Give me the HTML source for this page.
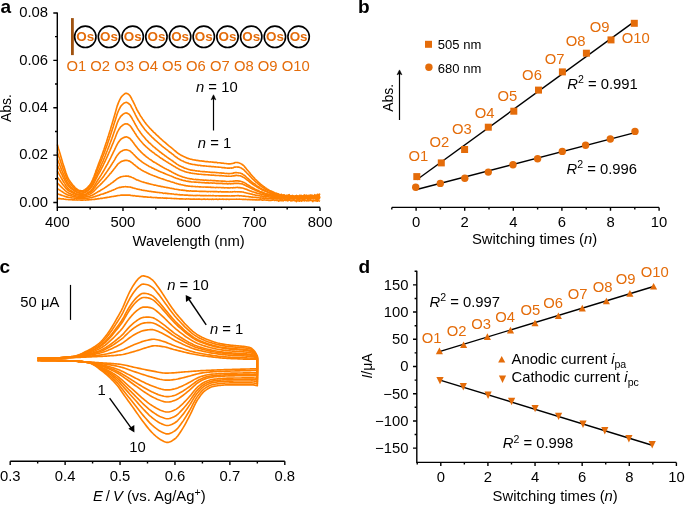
<!DOCTYPE html>
<html><head><meta charset="utf-8"><style>
html,body{margin:0;padding:0;background:#fff;width:685px;height:505px;overflow:hidden}
svg{display:block}
text{font-family:"Liberation Sans", sans-serif;}
</style></head><body>
<svg width="685" height="505" viewBox="0 0 685 505" style="will-change:transform" font-family='"Liberation Sans", sans-serif'>
<rect width="685" height="505" fill="#fff"/>
<g fill="none" stroke="#ff8000" stroke-width="1.65" stroke-linejoin="round">
<path d="M57.3 198.16 L57.96 198.57 L58.61 198.44 L59.27 198.59 L59.93 198.67 L60.58 198.74 L61.24 198.95 L61.9 198.91 L62.55 199.03 L63.21 198.82 L63.87 199.11 L64.52 199.23 L65.18 199.3 L65.84 199.41 L66.5 199.51 L67.15 199.53 L67.81 199.52 L68.47 199.62 L69.12 199.58 L69.78 199.7 L70.44 199.72 L71.09 199.65 L71.75 199.75 L72.41 199.86 L73.06 199.86 L73.72 199.84 L74.38 199.77 L75.03 199.95 L75.69 199.98 L76.35 199.91 L77 200.06 L77.66 200.04 L78.32 199.97 L78.97 200.01 L79.63 200.05 L80.29 200.02 L80.94 200.27 L81.6 200 L82.26 200.14 L82.92 200.18 L83.57 200.03 L84.23 199.99 L84.89 200.05 L85.54 200.07 L86.2 199.97 L86.86 199.94 L87.51 199.81 L88.17 199.82 L88.83 199.83 L89.48 199.72 L90.14 199.78 L90.8 199.78 L91.45 199.62 L92.11 199.55 L92.77 199.53 L93.42 199.48 L94.08 199.32 L94.74 199.42 L95.39 199.1 L96.05 199.02 L96.71 199.07 L97.36 198.86 L98.02 198.84 L98.68 198.63 L99.34 198.74 L99.99 198.57 L100.65 198.37 L101.31 198.25 L101.96 198.39 L102.62 198.18 L103.28 198.02 L103.93 197.99 L104.59 197.74 L105.25 197.83 L105.9 197.62 L106.56 197.62 L107.22 197.34 L107.87 197.33 L108.53 197.25 L109.19 197.24 L109.84 196.89 L110.5 196.84 L111.16 196.73 L111.81 196.59 L112.47 196.53 L113.13 196.48 L113.78 196.37 L114.44 196.26 L115.1 195.98 L115.76 196.06 L116.41 195.87 L117.07 195.73 L117.73 195.59 L118.38 195.48 L119.04 195.53 L119.7 195.49 L120.35 195.3 L121.01 195.17 L121.67 195.16 L122.32 195.17 L122.98 195.18 L123.64 195.11 L124.29 195.13 L124.95 195.04 L125.61 195.14 L126.26 195.08 L126.92 195.11 L127.58 195.09 L128.23 195.15 L128.89 195.02 L129.55 195.13 L130.2 195.19 L130.86 195.51 L131.52 195.47 L132.18 195.57 L132.83 195.57 L133.49 195.85 L134.15 195.69 L134.8 195.78 L135.46 196.03 L136.12 196.1 L136.77 196.16 L137.43 196.18 L138.09 196.21 L138.74 196.18 L139.4 196.41 L140.06 196.41 L140.71 196.51 L141.37 196.46 L142.03 196.59 L142.68 196.61 L143.34 196.84 L144 196.83 L144.65 196.93 L145.31 196.82 L145.97 196.93 L146.62 197.05 L147.28 197.11 L147.94 197.09 L148.6 197.22 L149.25 197.28 L149.91 197.22 L150.57 197.12 L151.22 197.36 L151.88 197.42 L152.54 197.51 L153.19 197.56 L153.85 197.47 L154.51 197.48 L155.16 197.58 L155.82 197.6 L156.48 197.65 L157.13 197.69 L157.79 197.84 L158.45 197.8 L159.1 197.8 L159.76 197.9 L160.42 197.91 L161.07 197.97 L161.73 197.97 L162.39 197.92 L163.04 198.04 L163.7 198.06 L164.36 198.03 L165.02 198.07 L165.67 198.03 L166.33 198.33 L166.99 198.15 L167.64 198.28 L168.3 198.27 L168.96 198.25 L169.61 198.27 L170.27 198.3 L170.93 198.39 L171.58 198.32 L172.24 198.49 L172.9 198.51 L173.55 198.48 L174.21 198.61 L174.87 198.45 L175.52 198.56 L176.18 198.51 L176.84 198.69 L177.49 198.75 L178.15 198.74 L178.81 198.72 L179.46 198.84 L180.12 198.8 L180.78 198.85 L181.44 198.75 L182.09 198.94 L182.75 198.83 L183.41 198.97 L184.06 199.02 L184.72 199.02 L185.38 199.07 L186.03 198.99 L186.69 198.94 L187.35 199.02 L188 199 L188.66 198.94 L189.32 199.05 L189.97 199.07 L190.63 199.11 L191.29 199.21 L191.94 199.05 L192.6 199.24 L193.26 199.07 L193.91 199.13 L194.57 199.05 L195.23 199.14 L195.88 199.2 L196.54 199.13 L197.2 199.2 L197.86 199.17 L198.51 199.16 L199.17 199.18 L199.83 199.19 L200.48 199.24 L201.14 199.2 L201.8 199.34 L202.45 199.2 L203.11 199.28 L203.77 199.12 L204.42 199.11 L205.08 199.34 L205.74 199.2 L206.39 199.22 L207.05 199.29 L207.71 199.18 L208.36 199.25 L209.02 199.35 L209.68 199.25 L210.33 199.24 L210.99 199.22 L211.65 199.32 L212.3 199.19 L212.96 199.19 L213.62 199.32 L214.28 199.29 L214.93 199.25 L215.59 199.29 L216.25 199.13 L216.9 199.24 L217.56 199.33 L218.22 199.31 L218.87 199.26 L219.53 199.1 L220.19 199.28 L220.84 199.26 L221.5 199.23 L222.16 199.28 L222.81 199.11 L223.47 199.32 L224.13 199.23 L224.78 199.27 L225.44 199.24 L226.1 199.37 L226.75 199.17 L227.41 199.3 L228.07 199.29 L228.72 199.36 L229.38 199.35 L230.04 199.25 L230.7 199.22 L231.35 199.24 L232.01 199.2 L232.67 199.23 L233.32 199.28 L233.98 199.21 L234.64 199.22 L235.29 199.27 L235.95 199.2 L236.61 199.16 L237.26 199.24 L237.92 199.29 L238.58 199.21 L239.23 199.13 L239.89 199.29 L240.55 199.29 L241.2 199.3 L241.86 199.22 L242.52 199.45 L243.17 199.31 L243.83 199.27 L244.49 199.44 L245.14 199.29 L245.8 199.38 L246.46 199.49 L247.12 199.45 L247.77 199.61 L248.43 199.56 L249.09 199.4 L249.74 199.64 L250.4 199.44 L251.06 199.62 L251.71 199.56 L252.37 199.66 L253.03 199.87 L253.68 199.75 L254.34 199.71 L255 199.85 L255.65 199.89 L256.31 199.75 L256.97 199.86 L257.62 199.99 L258.28 199.91 L258.94 199.77 L259.59 199.93 L260.25 199.79 L260.91 199.74 L261.56 199.92 L262.22 200.07 L262.88 200.12 L263.54 199.98 L264.19 199.87 L264.85 199.97 L265.51 199.95 L266.16 200.11 L266.82 200.02 L267.48 200.16 L268.13 200.16 L268.79 200.35 L269.45 200.42 L270.1 200.25 L270.76 200.39 L271.42 200.38 L272.07 200.06 L272.73 200.24 L273.39 199.57 L274.04 200.03 L274.7 200.42 L275.36 200.08 L276.01 200.2 L276.67 200.49 L277.33 200.01 L277.98 200.55 L278.64 201.24 L279.3 200.12 L279.96 200.56 L280.61 199.91 L281.27 200.6 L281.93 200.79 L282.58 199.9 L283.24 200.78 L283.9 200.36 L284.55 199.94 L285.21 200.41 L285.87 200.49 L286.52 200.43 L287.18 200.18 L287.84 200.78 L288.49 200.27 L289.15 200.29 L289.81 199.64 L290.46 200.65 L291.12 200.88 L291.78 200.26 L292.43 200.7 L293.09 200.44 L293.75 200.51 L294.4 200.12 L295.06 200.83 L295.72 200.62 L296.38 201.59 L297.03 200.95 L297.69 200 L298.35 200.88 L299 200.9 L299.66 201.11 L300.32 200.4 L300.97 200.57 L301.63 201.11 L302.29 200.38 L302.94 200.55 L303.6 200.36 L304.26 200.92 L304.91 199.98 L305.57 200.52 L306.23 200.73 L306.88 200.9 L307.54 200.79 L308.2 200.36 L308.85 200.82 L309.51 200.28 L310.17 200.49 L310.82 200.19 L311.48 200.41 L312.14 200.76 L312.8 201.51 L313.45 200.63 L314.11 200.44 L314.77 200.69 L315.42 200.54 L316.08 200.96 L316.74 200.93 L317.39 201.16 L318.05 200.24 L318.71 200.73 L319.36 201 L320.02 201.34"/>
<path d="M57.3 193.81 L57.96 193.93 L58.61 194.23 L59.27 194.54 L59.93 194.62 L60.58 194.85 L61.24 195.12 L61.9 195.36 L62.55 195.56 L63.21 195.82 L63.87 196.01 L64.52 196.33 L65.18 196.38 L65.84 196.68 L66.5 196.75 L67.15 197.21 L67.81 197.18 L68.47 197.29 L69.12 197.5 L69.78 197.55 L70.44 197.63 L71.09 197.73 L71.75 197.89 L72.41 197.95 L73.06 197.95 L73.72 198.01 L74.38 198.17 L75.03 198.24 L75.69 198.29 L76.35 198.29 L77 198.49 L77.66 198.56 L78.32 198.5 L78.97 198.62 L79.63 198.61 L80.29 198.58 L80.94 198.57 L81.6 198.68 L82.26 198.54 L82.92 198.7 L83.57 198.51 L84.23 198.62 L84.89 198.55 L85.54 198.36 L86.2 198.37 L86.86 198.32 L87.51 198.22 L88.17 198.07 L88.83 198.02 L89.48 197.92 L90.14 197.75 L90.8 197.76 L91.45 197.61 L92.11 197.45 L92.77 197.15 L93.42 196.96 L94.08 196.73 L94.74 196.61 L95.39 196.39 L96.05 196.09 L96.71 195.96 L97.36 195.65 L98.02 195.45 L98.68 195.34 L99.34 195.09 L99.99 194.88 L100.65 194.54 L101.31 194.27 L101.96 194.24 L102.62 194.01 L103.28 193.95 L103.93 193.55 L104.59 193.33 L105.25 193.17 L105.9 192.79 L106.56 192.71 L107.22 192.37 L107.87 192.1 L108.53 191.94 L109.19 191.54 L109.84 191.26 L110.5 191.18 L111.16 190.92 L111.81 190.51 L112.47 190.28 L113.13 190.09 L113.78 189.75 L114.44 189.46 L115.1 189.18 L115.76 188.82 L116.41 188.56 L117.07 188.19 L117.73 187.97 L118.38 187.82 L119.04 187.6 L119.7 187.41 L120.35 187.3 L121.01 187.3 L121.67 187.06 L122.32 187.04 L122.98 186.85 L123.64 186.89 L124.29 186.8 L124.95 186.77 L125.61 186.65 L126.26 186.76 L126.92 186.81 L127.58 186.81 L128.23 186.93 L128.89 186.96 L129.55 187.05 L130.2 187.14 L130.86 187.17 L131.52 187.51 L132.18 187.65 L132.83 187.83 L133.49 187.94 L134.15 188.26 L134.8 188.41 L135.46 188.55 L136.12 188.69 L136.77 188.91 L137.43 189.11 L138.09 189.29 L138.74 189.34 L139.4 189.42 L140.06 189.64 L140.71 189.79 L141.37 189.9 L142.03 190.13 L142.68 190.21 L143.34 190.33 L144 190.41 L144.65 190.55 L145.31 190.75 L145.97 190.69 L146.62 190.76 L147.28 191 L147.94 191.06 L148.6 191.16 L149.25 191.22 L149.91 191.48 L150.57 191.35 L151.22 191.59 L151.88 191.55 L152.54 191.73 L153.19 191.85 L153.85 191.91 L154.51 191.92 L155.16 192.13 L155.82 192.18 L156.48 192.27 L157.13 192.44 L157.79 192.31 L158.45 192.44 L159.1 192.56 L159.76 192.56 L160.42 192.78 L161.07 192.8 L161.73 192.75 L162.39 192.87 L163.04 193.18 L163.7 193.33 L164.36 193.24 L165.02 193.16 L165.67 193.34 L166.33 193.4 L166.99 193.41 L167.64 193.58 L168.3 193.58 L168.96 193.61 L169.61 193.7 L170.27 193.77 L170.93 193.91 L171.58 193.9 L172.24 194.04 L172.9 193.99 L173.55 193.97 L174.21 194.28 L174.87 194.45 L175.52 194.39 L176.18 194.41 L176.84 194.42 L177.49 194.49 L178.15 194.68 L178.81 194.74 L179.46 194.65 L180.12 194.87 L180.78 194.77 L181.44 194.91 L182.09 194.88 L182.75 194.93 L183.41 194.97 L184.06 195.01 L184.72 195.17 L185.38 195.12 L186.03 195.18 L186.69 195.19 L187.35 195.16 L188 195.3 L188.66 195.36 L189.32 195.38 L189.97 195.38 L190.63 195.32 L191.29 195.45 L191.94 195.33 L192.6 195.41 L193.26 195.46 L193.91 195.56 L194.57 195.46 L195.23 195.44 L195.88 195.63 L196.54 195.44 L197.2 195.42 L197.86 195.52 L198.51 195.52 L199.17 195.4 L199.83 195.49 L200.48 195.65 L201.14 195.6 L201.8 195.62 L202.45 195.63 L203.11 195.8 L203.77 195.58 L204.42 195.69 L205.08 195.64 L205.74 195.67 L206.39 195.61 L207.05 195.7 L207.71 195.74 L208.36 195.65 L209.02 195.6 L209.68 195.73 L210.33 195.61 L210.99 195.7 L211.65 195.76 L212.3 195.63 L212.96 195.8 L213.62 195.68 L214.28 195.79 L214.93 195.73 L215.59 195.86 L216.25 195.83 L216.9 195.71 L217.56 195.77 L218.22 195.79 L218.87 195.83 L219.53 195.78 L220.19 195.91 L220.84 195.9 L221.5 195.84 L222.16 195.89 L222.81 195.89 L223.47 195.86 L224.13 195.87 L224.78 195.89 L225.44 195.76 L226.1 195.82 L226.75 195.81 L227.41 195.91 L228.07 195.94 L228.72 196.01 L229.38 195.93 L230.04 196.05 L230.7 195.94 L231.35 195.84 L232.01 195.77 L232.67 195.81 L233.32 195.92 L233.98 195.8 L234.64 195.87 L235.29 195.73 L235.95 195.79 L236.61 195.72 L237.26 195.6 L237.92 195.73 L238.58 195.64 L239.23 195.81 L239.89 195.87 L240.55 195.78 L241.2 195.78 L241.86 195.99 L242.52 195.98 L243.17 196.15 L243.83 196.12 L244.49 196.11 L245.14 196.26 L245.8 196.38 L246.46 196.52 L247.12 196.47 L247.77 196.52 L248.43 196.61 L249.09 196.71 L249.74 196.91 L250.4 196.75 L251.06 196.98 L251.71 197.06 L252.37 197.07 L253.03 197.38 L253.68 197.28 L254.34 197.35 L255 197.38 L255.65 197.36 L256.31 197.5 L256.97 197.78 L257.62 197.7 L258.28 197.71 L258.94 197.78 L259.59 197.98 L260.25 198.08 L260.91 197.9 L261.56 197.98 L262.22 198.07 L262.88 198.33 L263.54 197.95 L264.19 198.6 L264.85 198.31 L265.51 198.01 L266.16 198.36 L266.82 198.34 L267.48 198.6 L268.13 198.22 L268.79 198.7 L269.45 198.46 L270.1 198.51 L270.76 198.77 L271.42 198.41 L272.07 198.92 L272.73 198.79 L273.39 198.67 L274.04 198.78 L274.7 198.59 L275.36 198.49 L276.01 198.82 L276.67 198.91 L277.33 198.93 L277.98 198.91 L278.64 198.58 L279.3 198.9 L279.96 198.72 L280.61 198.88 L281.27 199.13 L281.93 198.59 L282.58 199.23 L283.24 198.89 L283.9 198.39 L284.55 199.28 L285.21 198.93 L285.87 199.48 L286.52 199.1 L287.18 199.46 L287.84 199.06 L288.49 199.12 L289.15 198.88 L289.81 198.34 L290.46 198.82 L291.12 198.68 L291.78 198.95 L292.43 199.02 L293.09 199.25 L293.75 199.62 L294.4 198.9 L295.06 198.29 L295.72 198.73 L296.38 199.13 L297.03 198.27 L297.69 199.08 L298.35 199.15 L299 199.38 L299.66 199.28 L300.32 198.99 L300.97 198.09 L301.63 198.96 L302.29 199.28 L302.94 199.1 L303.6 198.94 L304.26 199.53 L304.91 198.79 L305.57 198.55 L306.23 198.7 L306.88 198.58 L307.54 199.33 L308.2 199.48 L308.85 198.28 L309.51 198.35 L310.17 199.4 L310.82 198.69 L311.48 198.76 L312.14 198.54 L312.8 198.67 L313.45 198.94 L314.11 198.66 L314.77 198.66 L315.42 198.74 L316.08 199.45 L316.74 199.9 L317.39 199.01 L318.05 199.34 L318.71 198.58 L319.36 198.38 L320.02 198.56"/>
<path d="M57.3 188.63 L57.96 189.02 L58.61 189.37 L59.27 189.93 L59.93 190.23 L60.58 190.67 L61.24 191.13 L61.9 191.47 L62.55 192.04 L63.21 192.33 L63.87 192.85 L64.52 193.22 L65.18 193.63 L65.84 193.9 L66.5 194.36 L67.15 194.62 L67.81 194.99 L68.47 195.08 L69.12 195.24 L69.78 195.55 L70.44 195.62 L71.09 195.86 L71.75 195.9 L72.41 196.2 L73.06 196.47 L73.72 196.4 L74.38 196.66 L75.03 196.85 L75.69 196.93 L76.35 197.11 L77 197.1 L77.66 197.25 L78.32 197.14 L78.97 197.26 L79.63 197.47 L80.29 197.49 L80.94 197.45 L81.6 197.55 L82.26 197.4 L82.92 197.36 L83.57 197.36 L84.23 197.27 L84.89 197.1 L85.54 196.93 L86.2 196.81 L86.86 196.78 L87.51 196.57 L88.17 196.53 L88.83 196.29 L89.48 196.22 L90.14 195.92 L90.8 195.85 L91.45 195.58 L92.11 195.22 L92.77 194.86 L93.42 194.64 L94.08 194.2 L94.74 193.76 L95.39 193.35 L96.05 193.02 L96.71 192.55 L97.36 192.19 L98.02 191.69 L98.68 191.38 L99.34 191.14 L99.99 190.83 L100.65 190.29 L101.31 189.83 L101.96 189.51 L102.62 189.06 L103.28 188.76 L103.93 188.4 L104.59 187.84 L105.25 187.45 L105.9 186.98 L106.56 186.69 L107.22 186.13 L107.87 185.74 L108.53 185.18 L109.19 184.82 L109.84 184.36 L110.5 183.89 L111.16 183.29 L111.81 182.9 L112.47 182.47 L113.13 182 L113.78 181.51 L114.44 180.84 L115.1 180.57 L115.76 179.97 L116.41 179.34 L117.07 178.81 L117.73 178.48 L118.38 178.05 L119.04 177.7 L119.7 177.37 L120.35 177.15 L121.01 176.8 L121.67 176.72 L122.32 176.48 L122.98 176.53 L123.64 176.26 L124.29 176.3 L124.95 176.24 L125.61 176.04 L126.26 176.12 L126.92 176.06 L127.58 176.24 L128.23 176.15 L128.89 176.39 L129.55 176.6 L130.2 176.69 L130.86 176.9 L131.52 177.31 L132.18 177.51 L132.83 177.69 L133.49 178.08 L134.15 178.45 L134.8 178.81 L135.46 179.05 L136.12 179.52 L136.77 179.93 L137.43 180.05 L138.09 180.35 L138.74 180.41 L139.4 180.77 L140.06 181.1 L140.71 181.35 L141.37 181.46 L142.03 181.78 L142.68 181.99 L143.34 182.16 L144 182.36 L144.65 182.56 L145.31 182.75 L145.97 182.86 L146.62 183.01 L147.28 183.43 L147.94 183.3 L148.6 183.65 L149.25 183.73 L149.91 184.04 L150.57 184.12 L151.22 184.29 L151.88 184.45 L152.54 184.54 L153.19 184.71 L153.85 184.97 L154.51 185.06 L155.16 185.14 L155.82 185.29 L156.48 185.5 L157.13 185.64 L157.79 185.77 L158.45 185.98 L159.1 186.13 L159.76 186.06 L160.42 186.34 L161.07 186.44 L161.73 186.63 L162.39 186.62 L163.04 186.71 L163.7 186.98 L164.36 187.06 L165.02 187.27 L165.67 187.22 L166.33 187.4 L166.99 187.65 L167.64 187.63 L168.3 187.81 L168.96 187.93 L169.61 188.06 L170.27 188.25 L170.93 188.36 L171.58 188.4 L172.24 188.57 L172.9 188.76 L173.55 188.67 L174.21 188.96 L174.87 189.11 L175.52 189.24 L176.18 189.26 L176.84 189.35 L177.49 189.52 L178.15 189.58 L178.81 189.85 L179.46 189.87 L180.12 189.97 L180.78 190.02 L181.44 190.07 L182.09 190.33 L182.75 190.04 L183.41 190.4 L184.06 190.39 L184.72 190.42 L185.38 190.49 L186.03 190.6 L186.69 190.88 L187.35 190.81 L188 190.73 L188.66 190.9 L189.32 190.96 L189.97 191.09 L190.63 190.87 L191.29 190.96 L191.94 191.09 L192.6 191.07 L193.26 191.09 L193.91 191.19 L194.57 191.16 L195.23 191.15 L195.88 191.15 L196.54 191.13 L197.2 191.24 L197.86 191.29 L198.51 191.25 L199.17 191.35 L199.83 191.41 L200.48 191.26 L201.14 191.39 L201.8 191.37 L202.45 191.35 L203.11 191.49 L203.77 191.38 L204.42 191.41 L205.08 191.46 L205.74 191.44 L206.39 191.54 L207.05 191.65 L207.71 191.53 L208.36 191.59 L209.02 191.48 L209.68 191.53 L210.33 191.6 L210.99 191.58 L211.65 191.5 L212.3 191.53 L212.96 191.59 L213.62 191.6 L214.28 191.67 L214.93 191.67 L215.59 191.63 L216.25 191.69 L216.9 191.67 L217.56 191.79 L218.22 191.84 L218.87 191.85 L219.53 191.78 L220.19 191.67 L220.84 191.69 L221.5 191.86 L222.16 191.91 L222.81 191.76 L223.47 191.81 L224.13 191.96 L224.78 191.8 L225.44 191.89 L226.1 191.82 L226.75 191.91 L227.41 191.88 L228.07 191.93 L228.72 192.02 L229.38 191.97 L230.04 191.99 L230.7 191.87 L231.35 191.99 L232.01 192.01 L232.67 191.83 L233.32 191.77 L233.98 191.7 L234.64 191.67 L235.29 191.82 L235.95 191.74 L236.61 191.74 L237.26 191.71 L237.92 191.88 L238.58 191.74 L239.23 191.75 L239.89 191.89 L240.55 191.87 L241.2 191.86 L241.86 192.02 L242.52 192.04 L243.17 192.15 L243.83 192.32 L244.49 192.46 L245.14 192.67 L245.8 192.71 L246.46 193 L247.12 193.18 L247.77 193.23 L248.43 193.5 L249.09 193.56 L249.74 193.67 L250.4 193.91 L251.06 194.07 L251.71 194.16 L252.37 194.32 L253.03 194.66 L253.68 194.79 L254.34 194.7 L255 194.92 L255.65 195.27 L256.31 195.34 L256.97 195.35 L257.62 195.57 L258.28 195.55 L258.94 195.7 L259.59 195.78 L260.25 196.07 L260.91 195.98 L261.56 195.94 L262.22 196.36 L262.88 196.21 L263.54 196.35 L264.19 196.49 L264.85 196.66 L265.51 196.89 L266.16 196.93 L266.82 196.76 L267.48 196.79 L268.13 196.8 L268.79 196.9 L269.45 196.96 L270.1 197.26 L270.76 197.47 L271.42 197.24 L272.07 197.22 L272.73 197.36 L273.39 197.76 L274.04 197.58 L274.7 197.86 L275.36 197.5 L276.01 197.85 L276.67 197.65 L277.33 197.55 L277.98 197.63 L278.64 197.3 L279.3 198.06 L279.96 198.42 L280.61 197.47 L281.27 197.34 L281.93 197.33 L282.58 197.72 L283.24 197.64 L283.9 197.79 L284.55 198.29 L285.21 198.05 L285.87 197.68 L286.52 198.07 L287.18 197.18 L287.84 198.43 L288.49 198.03 L289.15 197.46 L289.81 198.1 L290.46 198.29 L291.12 198.38 L291.78 198.14 L292.43 197.28 L293.09 197.69 L293.75 197.65 L294.4 198.04 L295.06 197.51 L295.72 197.79 L296.38 198.18 L297.03 197.99 L297.69 197.72 L298.35 197.33 L299 197.8 L299.66 197.56 L300.32 196.95 L300.97 198.05 L301.63 198.2 L302.29 197.31 L302.94 197.5 L303.6 197.7 L304.26 197.54 L304.91 197.76 L305.57 197.4 L306.23 197.73 L306.88 197.26 L307.54 198.03 L308.2 197.87 L308.85 197.48 L309.51 197.69 L310.17 197.21 L310.82 197.49 L311.48 197.67 L312.14 197.35 L312.8 197.63 L313.45 198.02 L314.11 197.83 L314.77 197.68 L315.42 197.53 L316.08 197.28 L316.74 196.94 L317.39 197.06 L318.05 196.55 L318.71 196.73 L319.36 197.3 L320.02 196.54"/>
<path d="M57.3 182.91 L57.96 183.68 L58.61 184.27 L59.27 184.86 L59.93 185.56 L60.58 186.15 L61.24 186.84 L61.9 187.47 L62.55 188.17 L63.21 188.73 L63.87 189.37 L64.52 189.88 L65.18 190.64 L65.84 191.07 L66.5 191.55 L67.15 192.1 L67.81 192.58 L68.47 192.92 L69.12 193.34 L69.78 193.63 L70.44 193.86 L71.09 194.09 L71.75 194.25 L72.41 194.61 L73.06 194.71 L73.72 195.12 L74.38 195.27 L75.03 195.41 L75.69 195.5 L76.35 195.78 L77 196.03 L77.66 195.98 L78.32 196.12 L78.97 196.29 L79.63 196.35 L80.29 196.37 L80.94 196.35 L81.6 196.32 L82.26 196.44 L82.92 196.1 L83.57 196.17 L84.23 196.07 L84.89 195.84 L85.54 195.7 L86.2 195.34 L86.86 195.2 L87.51 195.06 L88.17 194.81 L88.83 194.54 L89.48 194.24 L90.14 193.88 L90.8 193.62 L91.45 193.04 L92.11 192.67 L92.77 192.12 L93.42 191.44 L94.08 191.01 L94.74 190.27 L95.39 189.48 L96.05 188.83 L96.71 188.15 L97.36 187.45 L98.02 186.88 L98.68 186.23 L99.34 185.68 L99.99 185.09 L100.65 184.23 L101.31 183.74 L101.96 183.06 L102.62 182.24 L103.28 181.58 L103.93 181 L104.59 180.29 L105.25 179.54 L105.9 178.87 L106.56 178.02 L107.22 177.3 L107.87 176.54 L108.53 175.73 L109.19 174.96 L109.84 174.1 L110.5 173.33 L111.16 172.77 L111.81 171.77 L112.47 171.09 L113.13 170.28 L113.78 169.3 L114.44 168.57 L115.1 167.69 L115.76 166.69 L116.41 165.93 L117.07 165.12 L117.73 164.3 L118.38 163.63 L119.04 163.1 L119.7 162.71 L120.35 162.17 L121.01 161.74 L121.67 161.3 L122.32 161.13 L122.98 160.91 L123.64 160.67 L124.29 160.6 L124.95 160.41 L125.61 160.34 L126.26 160.43 L126.92 160.42 L127.58 160.51 L128.23 160.81 L128.89 160.9 L129.55 161.14 L130.2 161.45 L130.86 162.03 L131.52 162.48 L132.18 162.89 L132.83 163.44 L133.49 164.08 L134.15 164.55 L134.8 165.02 L135.46 165.69 L136.12 166.2 L136.77 166.58 L137.43 167.27 L138.09 167.74 L138.74 168.25 L139.4 168.66 L140.06 168.94 L140.71 169.47 L141.37 169.94 L142.03 170.32 L142.68 170.64 L143.34 170.95 L144 171.42 L144.65 171.67 L145.31 172.09 L145.97 172.36 L146.62 172.67 L147.28 172.97 L147.94 173.35 L148.6 173.63 L149.25 173.87 L149.91 174.28 L150.57 174.45 L151.22 174.7 L151.88 174.93 L152.54 175.27 L153.19 175.54 L153.85 175.77 L154.51 176.09 L155.16 176.3 L155.82 176.51 L156.48 176.77 L157.13 177.11 L157.79 177.3 L158.45 177.67 L159.1 177.7 L159.76 178.03 L160.42 178.21 L161.07 178.54 L161.73 178.69 L162.39 178.88 L163.04 179.07 L163.7 179.46 L164.36 179.52 L165.02 179.81 L165.67 180.07 L166.33 180.2 L166.99 180.47 L167.64 180.68 L168.3 180.92 L168.96 181.06 L169.61 181.29 L170.27 181.51 L170.93 181.77 L171.58 181.95 L172.24 182.1 L172.9 182.25 L173.55 182.56 L174.21 182.67 L174.87 182.99 L175.52 183.27 L176.18 183.36 L176.84 183.67 L177.49 183.77 L178.15 183.91 L178.81 184.18 L179.46 184.34 L180.12 184.32 L180.78 184.62 L181.44 184.76 L182.09 184.86 L182.75 185.05 L183.41 185.18 L184.06 185.28 L184.72 185.6 L185.38 185.44 L186.03 185.73 L186.69 185.84 L187.35 185.82 L188 185.95 L188.66 186.13 L189.32 186.1 L189.97 186.26 L190.63 186.29 L191.29 186.41 L191.94 186.42 L192.6 186.39 L193.26 186.46 L193.91 186.49 L194.57 186.49 L195.23 186.6 L195.88 186.69 L196.54 186.7 L197.2 186.6 L197.86 186.75 L198.51 186.77 L199.17 186.83 L199.83 186.84 L200.48 186.86 L201.14 186.92 L201.8 186.96 L202.45 187.04 L203.11 187.07 L203.77 187 L204.42 187.01 L205.08 187.02 L205.74 187.1 L206.39 187.19 L207.05 187.11 L207.71 187.13 L208.36 187.3 L209.02 187.16 L209.68 187.2 L210.33 187.14 L210.99 187.36 L211.65 187.4 L212.3 187.27 L212.96 187.48 L213.62 187.42 L214.28 187.47 L214.93 187.49 L215.59 187.57 L216.25 187.47 L216.9 187.4 L217.56 187.46 L218.22 187.48 L218.87 187.56 L219.53 187.45 L220.19 187.54 L220.84 187.52 L221.5 187.73 L222.16 187.62 L222.81 187.75 L223.47 187.67 L224.13 187.72 L224.78 187.84 L225.44 187.78 L226.1 187.73 L226.75 187.8 L227.41 187.82 L228.07 187.93 L228.72 187.92 L229.38 187.95 L230.04 187.85 L230.7 187.75 L231.35 187.79 L232.01 187.79 L232.67 187.84 L233.32 187.68 L233.98 187.66 L234.64 187.7 L235.29 187.62 L235.95 187.49 L236.61 187.54 L237.26 187.37 L237.92 187.51 L238.58 187.62 L239.23 187.62 L239.89 187.55 L240.55 187.82 L241.2 187.81 L241.86 187.95 L242.52 188.01 L243.17 188.25 L243.83 188.52 L244.49 188.67 L245.14 188.94 L245.8 189.11 L246.46 189.44 L247.12 189.54 L247.77 189.95 L248.43 190.15 L249.09 190.47 L249.74 190.65 L250.4 190.91 L251.06 191.15 L251.71 191.34 L252.37 191.69 L253.03 191.94 L253.68 192 L254.34 192.33 L255 192.58 L255.65 192.63 L256.31 192.86 L256.97 193.38 L257.62 193.36 L258.28 193.44 L258.94 193.62 L259.59 193.93 L260.25 193.89 L260.91 194.31 L261.56 194.42 L262.22 194.54 L262.88 194.72 L263.54 194.77 L264.19 194.9 L264.85 195.16 L265.51 195.08 L266.16 195.49 L266.82 195.53 L267.48 195.33 L268.13 195.69 L268.79 195.61 L269.45 195.96 L270.1 196.02 L270.76 196.07 L271.42 196.1 L272.07 196.27 L272.73 196.27 L273.39 196.18 L274.04 196.11 L274.7 196.43 L275.36 196.36 L276.01 196.34 L276.67 196.92 L277.33 197.12 L277.98 196.27 L278.64 196.39 L279.3 196.8 L279.96 196.74 L280.61 197.17 L281.27 197.34 L281.93 196.82 L282.58 197.43 L283.24 196.66 L283.9 197.21 L284.55 196.89 L285.21 196.33 L285.87 196.35 L286.52 197.12 L287.18 196.65 L287.84 197.41 L288.49 197.25 L289.15 196.9 L289.81 196.52 L290.46 197.24 L291.12 196.82 L291.78 196.98 L292.43 197.49 L293.09 197.05 L293.75 196.42 L294.4 197.02 L295.06 196.78 L295.72 196.64 L296.38 197.24 L297.03 196.46 L297.69 196.33 L298.35 196.28 L299 196.37 L299.66 197.04 L300.32 197.07 L300.97 197.12 L301.63 197.14 L302.29 197.07 L302.94 196.34 L303.6 196.13 L304.26 196.93 L304.91 196.33 L305.57 197.13 L306.23 196.73 L306.88 196.97 L307.54 197.19 L308.2 196.5 L308.85 196.46 L309.51 196.63 L310.17 196.64 L310.82 196.8 L311.48 196.43 L312.14 196.59 L312.8 196.23 L313.45 196.78 L314.11 196.18 L314.77 196.03 L315.42 195.71 L316.08 195.76 L316.74 196.07 L317.39 196.39 L318.05 196.82 L318.71 196.06 L319.36 195.46 L320.02 195.34"/>
<path d="M57.3 177.18 L57.96 177.94 L58.61 178.8 L59.27 179.73 L59.93 180.52 L60.58 181.41 L61.24 182.34 L61.9 183.18 L62.55 184.16 L63.21 184.95 L63.87 185.75 L64.52 186.42 L65.18 187.4 L65.84 188.09 L66.5 188.76 L67.15 189.51 L67.81 190.05 L68.47 190.67 L69.12 191.03 L69.78 191.4 L70.44 191.66 L71.09 192.11 L71.75 192.38 L72.41 192.8 L73.06 193.11 L73.72 193.31 L74.38 193.67 L75.03 193.87 L75.69 194.16 L76.35 194.27 L77 194.45 L77.66 194.86 L78.32 194.82 L78.97 195.05 L79.63 195.13 L80.29 195.24 L80.94 195.23 L81.6 195.38 L82.26 195.3 L82.92 195.22 L83.57 195.03 L84.23 194.82 L84.89 194.64 L85.54 194.45 L86.2 194.26 L86.86 194.05 L87.51 193.59 L88.17 193.28 L88.83 192.92 L89.48 192.48 L90.14 192.21 L90.8 191.78 L91.45 191.39 L92.11 190.56 L92.77 189.91 L93.42 189.2 L94.08 188.31 L94.74 187.58 L95.39 186.68 L96.05 185.63 L96.71 184.86 L97.36 184 L98.02 183.2 L98.68 182.42 L99.34 181.66 L99.99 180.71 L100.65 180.07 L101.31 179.2 L101.96 178.43 L102.62 177.6 L103.28 176.88 L103.93 175.96 L104.59 174.82 L105.25 173.91 L105.9 173.12 L106.56 172.15 L107.22 171.16 L107.87 170.31 L108.53 169.14 L109.19 168.36 L109.84 167.35 L110.5 166.5 L111.16 165.2 L111.81 164.28 L112.47 163.12 L113.13 162.26 L113.78 161.11 L114.44 160.09 L115.1 158.99 L115.76 157.73 L116.41 156.6 L117.07 155.62 L117.73 154.82 L118.38 153.95 L119.04 153.19 L119.7 152.57 L120.35 151.96 L121.01 151.46 L121.67 151.18 L122.32 150.79 L122.98 150.39 L123.64 150.3 L124.29 150 L124.95 149.77 L125.61 149.81 L126.26 149.7 L126.92 149.88 L127.58 149.96 L128.23 150.23 L128.89 150.46 L129.55 150.72 L130.2 151.11 L130.86 151.66 L131.52 152.45 L132.18 152.79 L132.83 153.53 L133.49 154.24 L134.15 154.88 L134.8 155.51 L135.46 156.29 L136.12 156.93 L136.77 157.59 L137.43 158.14 L138.09 158.82 L138.74 159.28 L139.4 159.83 L140.06 160.39 L140.71 160.8 L141.37 161.39 L142.03 161.96 L142.68 162.33 L143.34 162.8 L144 163.26 L144.65 163.67 L145.31 163.94 L145.97 164.49 L146.62 164.87 L147.28 165.31 L147.94 165.57 L148.6 166.03 L149.25 166.44 L149.91 166.82 L150.57 167.04 L151.22 167.36 L151.88 167.86 L152.54 168.12 L153.19 168.34 L153.85 168.63 L154.51 169.11 L155.16 169.36 L155.82 169.58 L156.48 169.98 L157.13 170.28 L157.79 170.59 L158.45 170.95 L159.1 171.15 L159.76 171.42 L160.42 171.83 L161.07 172.01 L161.73 172.22 L162.39 172.57 L163.04 172.79 L163.7 173.18 L164.36 173.31 L165.02 173.74 L165.67 173.82 L166.33 174.25 L166.99 174.54 L167.64 174.81 L168.3 175.04 L168.96 175.31 L169.61 175.58 L170.27 175.82 L170.93 176 L171.58 176.25 L172.24 176.6 L172.9 176.76 L173.55 177.18 L174.21 177.45 L174.87 177.72 L175.52 177.86 L176.18 178.27 L176.84 178.51 L177.49 178.56 L178.15 178.76 L178.81 179.01 L179.46 179.42 L180.12 179.51 L180.78 179.64 L181.44 179.86 L182.09 180.16 L182.75 180.23 L183.41 180.49 L184.06 180.62 L184.72 180.53 L185.38 180.78 L186.03 181.07 L186.69 181.2 L187.35 181.19 L188 181.38 L188.66 181.4 L189.32 181.58 L189.97 181.64 L190.63 181.68 L191.29 181.85 L191.94 181.98 L192.6 182 L193.26 182.02 L193.91 182.05 L194.57 182.1 L195.23 182.15 L195.88 182.16 L196.54 182.31 L197.2 182.2 L197.86 182.2 L198.51 182.36 L199.17 182.42 L199.83 182.38 L200.48 182.47 L201.14 182.54 L201.8 182.6 L202.45 182.68 L203.11 182.75 L203.77 182.65 L204.42 182.64 L205.08 182.84 L205.74 182.8 L206.39 182.81 L207.05 182.88 L207.71 182.93 L208.36 182.93 L209.02 183.07 L209.68 182.97 L210.33 183.01 L210.99 182.87 L211.65 182.98 L212.3 183.1 L212.96 183.11 L213.62 183.01 L214.28 183.05 L214.93 183.18 L215.59 183.23 L216.25 183.34 L216.9 183.29 L217.56 183.31 L218.22 183.37 L218.87 183.23 L219.53 183.51 L220.19 183.41 L220.84 183.4 L221.5 183.43 L222.16 183.37 L222.81 183.63 L223.47 183.62 L224.13 183.61 L224.78 183.65 L225.44 183.72 L226.1 183.79 L226.75 183.69 L227.41 183.86 L228.07 183.84 L228.72 183.71 L229.38 183.68 L230.04 183.72 L230.7 183.82 L231.35 183.79 L232.01 183.76 L232.67 183.74 L233.32 183.62 L233.98 183.4 L234.64 183.37 L235.29 183.35 L235.95 183.32 L236.61 183.36 L237.26 183.21 L237.92 183.47 L238.58 183.34 L239.23 183.53 L239.89 183.6 L240.55 183.76 L241.2 183.73 L241.86 183.96 L242.52 183.94 L243.17 184.45 L243.83 184.72 L244.49 184.89 L245.14 185.21 L245.8 185.61 L246.46 186.08 L247.12 186.16 L247.77 186.57 L248.43 186.9 L249.09 187.3 L249.74 187.54 L250.4 187.98 L251.06 188.27 L251.71 188.62 L252.37 188.82 L253.03 189.27 L253.68 189.56 L254.34 189.73 L255 190.09 L255.65 190.4 L256.31 190.69 L256.97 190.85 L257.62 191.27 L258.28 191.41 L258.94 191.5 L259.59 191.91 L260.25 192.27 L260.91 192.56 L261.56 192.63 L262.22 193.02 L262.88 193.29 L263.54 193.4 L264.19 193.66 L264.85 193.6 L265.51 194.12 L266.16 193.86 L266.82 194.39 L267.48 194.43 L268.13 194.5 L268.79 194.73 L269.45 194.79 L270.1 195.26 L270.76 195.66 L271.42 195.39 L272.07 195.84 L272.73 195.73 L273.39 195.51 L274.04 195.89 L274.7 196.1 L275.36 196.35 L276.01 196.25 L276.67 196.33 L277.33 196.82 L277.98 196.4 L278.64 196.88 L279.3 196.59 L279.96 196.87 L280.61 196.49 L281.27 196.59 L281.93 196.92 L282.58 197.02 L283.24 196.89 L283.9 196.62 L284.55 196.77 L285.21 197.13 L285.87 197.12 L286.52 196.71 L287.18 197.91 L287.84 197.15 L288.49 197.71 L289.15 196.9 L289.81 197.62 L290.46 197.5 L291.12 197.89 L291.78 197.49 L292.43 197.22 L293.09 196.9 L293.75 198.05 L294.4 197.75 L295.06 196.07 L295.72 197.24 L296.38 197.62 L297.03 197.42 L297.69 198.68 L298.35 197 L299 197.58 L299.66 198.21 L300.32 197.17 L300.97 197.88 L301.63 198.03 L302.29 197.41 L302.94 197.45 L303.6 197.79 L304.26 197.63 L304.91 198.13 L305.57 198.17 L306.23 197.22 L306.88 197.05 L307.54 197.4 L308.2 197.41 L308.85 197.71 L309.51 197.6 L310.17 197.91 L310.82 196.83 L311.48 197.75 L312.14 197.35 L312.8 197.51 L313.45 198.06 L314.11 196.71 L314.77 197.63 L315.42 197.78 L316.08 197.41 L316.74 197.81 L317.39 197.43 L318.05 197.82 L318.71 197.19 L319.36 197.39 L320.02 197.95"/>
<path d="M57.3 170.93 L57.96 172.14 L58.61 173.39 L59.27 174.43 L59.93 175.57 L60.58 176.62 L61.24 177.97 L61.9 178.99 L62.55 180.19 L63.21 181.23 L63.87 182.33 L64.52 183.37 L65.18 184.37 L65.84 185.52 L66.5 186.56 L67.15 187.3 L67.81 188.13 L68.47 188.75 L69.12 189.3 L69.78 189.88 L70.44 190.25 L71.09 190.78 L71.75 191.19 L72.41 191.57 L73.06 192 L73.72 192.45 L74.38 192.81 L75.03 193.22 L75.69 193.52 L76.35 193.75 L77 193.96 L77.66 194.29 L78.32 194.41 L78.97 194.5 L79.63 194.61 L80.29 194.85 L80.94 194.85 L81.6 194.92 L82.26 194.86 L82.92 194.76 L83.57 194.64 L84.23 194.42 L84.89 194.23 L85.54 193.98 L86.2 193.63 L86.86 193.26 L87.51 192.82 L88.17 192.47 L88.83 192 L89.48 191.5 L90.14 191.19 L90.8 190.6 L91.45 189.86 L92.11 189.1 L92.77 188.29 L93.42 187.18 L94.08 186.23 L94.74 185.22 L95.39 183.91 L96.05 183.03 L96.71 181.83 L97.36 180.8 L98.02 179.71 L98.68 178.67 L99.34 177.76 L99.99 176.69 L100.65 175.66 L101.31 174.67 L101.96 173.46 L102.62 172.45 L103.28 171.38 L103.93 170.28 L104.59 169.11 L105.25 167.91 L105.9 166.77 L106.56 165.45 L107.22 164.51 L107.87 163.25 L108.53 161.88 L109.19 160.74 L109.84 159.35 L110.5 158.12 L111.16 156.75 L111.81 155.45 L112.47 154.06 L113.13 152.74 L113.78 151.37 L114.44 150.08 L115.1 148.66 L115.76 147.25 L116.41 145.9 L117.07 144.6 L117.73 143.42 L118.38 142.31 L119.04 141.58 L119.7 140.53 L120.35 139.83 L121.01 139.09 L121.67 138.65 L122.32 138.33 L122.98 137.9 L123.64 137.73 L124.29 137.26 L124.95 137.04 L125.61 137.07 L126.26 136.86 L126.92 137.03 L127.58 137.23 L128.23 137.64 L128.89 137.85 L129.55 138.24 L130.2 138.81 L130.86 139.62 L131.52 140.32 L132.18 141.11 L132.83 141.98 L133.49 142.79 L134.15 143.79 L134.8 144.63 L135.46 145.52 L136.12 146.43 L136.77 147.1 L137.43 148.08 L138.09 148.92 L138.74 149.54 L139.4 150.38 L140.06 150.96 L140.71 151.6 L141.37 152.35 L142.03 152.97 L142.68 153.64 L143.34 154.16 L144 154.81 L144.65 155.2 L145.31 155.83 L145.97 156.42 L146.62 157.02 L147.28 157.28 L147.94 157.82 L148.6 158.36 L149.25 158.85 L149.91 159.31 L150.57 159.8 L151.22 160.08 L151.88 160.63 L152.54 161.17 L153.19 161.53 L153.85 162.09 L154.51 162.27 L155.16 162.66 L155.82 163 L156.48 163.37 L157.13 163.98 L157.79 164.29 L158.45 164.64 L159.1 165.04 L159.76 165.52 L160.42 165.8 L161.07 166.2 L161.73 166.51 L162.39 166.97 L163.04 167.35 L163.7 167.73 L164.36 168.08 L165.02 168.46 L165.67 168.78 L166.33 169.07 L166.99 169.42 L167.64 169.7 L168.3 170.06 L168.96 170.43 L169.61 170.9 L170.27 171.11 L170.93 171.41 L171.58 171.92 L172.24 172.26 L172.9 172.59 L173.55 172.95 L174.21 173.24 L174.87 173.63 L175.52 173.88 L176.18 174.32 L176.84 174.57 L177.49 174.91 L178.15 175.25 L178.81 175.39 L179.46 175.74 L180.12 175.96 L180.78 176.26 L181.44 176.41 L182.09 176.64 L182.75 176.91 L183.41 177.24 L184.06 177.26 L184.72 177.47 L185.38 177.69 L186.03 177.87 L186.69 178.05 L187.35 178.2 L188 178.44 L188.66 178.51 L189.32 178.61 L189.97 178.78 L190.63 178.91 L191.29 178.8 L191.94 178.98 L192.6 179.13 L193.26 179.23 L193.91 179.46 L194.57 179.45 L195.23 179.43 L195.88 179.39 L196.54 179.69 L197.2 179.66 L197.86 179.53 L198.51 179.67 L199.17 179.75 L199.83 179.75 L200.48 179.89 L201.14 179.95 L201.8 179.93 L202.45 179.97 L203.11 180.15 L203.77 180.01 L204.42 180.28 L205.08 180.25 L205.74 180.02 L206.39 180.31 L207.05 180.26 L207.71 180.42 L208.36 180.4 L209.02 180.47 L209.68 180.48 L210.33 180.44 L210.99 180.4 L211.65 180.5 L212.3 180.48 L212.96 180.67 L213.62 180.56 L214.28 180.66 L214.93 180.63 L215.59 180.79 L216.25 180.81 L216.9 180.73 L217.56 180.82 L218.22 180.88 L218.87 180.97 L219.53 180.96 L220.19 180.96 L220.84 180.97 L221.5 181.1 L222.16 181.12 L222.81 181.11 L223.47 181.27 L224.13 181.18 L224.78 181.29 L225.44 181.35 L226.1 181.56 L226.75 181.53 L227.41 181.52 L228.07 181.51 L228.72 181.55 L229.38 181.44 L230.04 181.44 L230.7 181.44 L231.35 181.53 L232.01 181.24 L232.67 181.32 L233.32 181.18 L233.98 181.15 L234.64 180.97 L235.29 180.82 L235.95 180.81 L236.61 180.77 L237.26 180.88 L237.92 180.76 L238.58 181.08 L239.23 181.06 L239.89 181.07 L240.55 181.31 L241.2 181.5 L241.86 181.78 L242.52 181.79 L243.17 182.29 L243.83 182.43 L244.49 182.81 L245.14 183.13 L245.8 183.49 L246.46 184.06 L247.12 184.47 L247.77 184.84 L248.43 185.33 L249.09 185.52 L249.74 186.01 L250.4 186.37 L251.06 186.88 L251.71 187.18 L252.37 187.61 L253.03 187.93 L253.68 188.38 L254.34 188.55 L255 189.04 L255.65 189.55 L256.31 189.59 L256.97 190 L257.62 190.37 L258.28 190.34 L258.94 190.89 L259.59 191.31 L260.25 191.52 L260.91 191.69 L261.56 192.03 L262.22 192.12 L262.88 192.4 L263.54 192.88 L264.19 193.03 L264.85 193.17 L265.51 193.54 L266.16 193.76 L266.82 193.76 L267.48 194.01 L268.13 194.5 L268.79 194.54 L269.45 194.69 L270.1 194.8 L270.76 195.07 L271.42 194.81 L272.07 195.43 L272.73 195.6 L273.39 195.44 L274.04 196.15 L274.7 195.99 L275.36 195.7 L276.01 196.32 L276.67 196.32 L277.33 195.9 L277.98 196.17 L278.64 196.38 L279.3 196.41 L279.96 196.77 L280.61 196.54 L281.27 196.76 L281.93 195.94 L282.58 196.64 L283.24 196.98 L283.9 196.94 L284.55 196.95 L285.21 197.5 L285.87 197.35 L286.52 196.55 L287.18 197.64 L287.84 197.37 L288.49 196.81 L289.15 196.65 L289.81 197.61 L290.46 196.69 L291.12 197.39 L291.78 196.64 L292.43 197.09 L293.09 197.41 L293.75 197.03 L294.4 197.1 L295.06 197.63 L295.72 196.49 L296.38 197.47 L297.03 196.88 L297.69 197.53 L298.35 198.05 L299 197.76 L299.66 197.35 L300.32 197.02 L300.97 196.58 L301.63 197.23 L302.29 197.35 L302.94 197.71 L303.6 197.22 L304.26 197.07 L304.91 198.05 L305.57 196.63 L306.23 196.67 L306.88 196.2 L307.54 197.45 L308.2 197.05 L308.85 197.04 L309.51 197.56 L310.17 197.35 L310.82 197.38 L311.48 196.76 L312.14 196.77 L312.8 196.38 L313.45 197.06 L314.11 197.44 L314.77 196.68 L315.42 196.68 L316.08 196.54 L316.74 196.29 L317.39 197 L318.05 196.42 L318.71 197.12 L319.36 196.63 L320.02 196.39"/>
<path d="M57.3 165.01 L57.96 166.36 L58.61 167.85 L59.27 169.16 L59.93 170.46 L60.58 171.92 L61.24 173.27 L61.9 174.4 L62.55 175.9 L63.21 177.27 L63.87 178.52 L64.52 179.6 L65.18 181.14 L65.84 182.18 L66.5 183.27 L67.15 184.42 L67.81 185.28 L68.47 186.18 L69.12 186.8 L69.78 187.41 L70.44 187.98 L71.09 188.49 L71.75 189 L72.41 189.42 L73.06 190.01 L73.72 190.51 L74.38 190.93 L75.03 191.34 L75.69 191.79 L76.35 192.15 L77 192.43 L77.66 192.59 L78.32 192.9 L78.97 193.07 L79.63 192.98 L80.29 193.21 L80.94 193.38 L81.6 193.45 L82.26 193.24 L82.92 193.27 L83.57 192.95 L84.23 192.76 L84.89 192.41 L85.54 192.22 L86.2 191.72 L86.86 191.48 L87.51 190.89 L88.17 190.3 L88.83 189.8 L89.48 189.43 L90.14 188.67 L90.8 188.03 L91.45 187.24 L92.11 186.34 L92.77 185.24 L93.42 184.1 L94.08 182.77 L94.74 181.52 L95.39 180.16 L96.05 178.86 L96.71 177.68 L97.36 176.29 L98.02 174.91 L98.68 173.93 L99.34 172.62 L99.99 171.47 L100.65 170.25 L101.31 168.92 L101.96 167.6 L102.62 166.31 L103.28 165.01 L103.93 163.63 L104.59 162.44 L105.25 160.87 L105.9 159.49 L106.56 158.1 L107.22 156.63 L107.87 155.22 L108.53 153.59 L109.19 152.23 L109.84 150.77 L110.5 149.15 L111.16 147.66 L111.81 146.05 L112.47 144.35 L113.13 142.86 L113.78 141.23 L114.44 139.48 L115.1 138.08 L115.76 136.23 L116.41 134.46 L117.07 132.83 L117.73 131.37 L118.38 130.39 L119.04 129.18 L119.7 128.2 L120.35 127.3 L121.01 126.55 L121.67 126.02 L122.32 125.42 L122.98 124.94 L123.64 124.65 L124.29 124.17 L124.95 124 L125.61 123.87 L126.26 123.95 L126.92 123.8 L127.58 124.07 L128.23 124.48 L128.89 124.9 L129.55 125.41 L130.2 125.9 L130.86 126.8 L131.52 127.73 L132.18 128.72 L132.83 129.78 L133.49 130.79 L134.15 131.69 L134.8 132.9 L135.46 133.82 L136.12 134.82 L136.77 135.99 L137.43 136.81 L138.09 137.75 L138.74 138.56 L139.4 139.47 L140.06 140.24 L140.71 141 L141.37 141.66 L142.03 142.49 L142.68 143.24 L143.34 144.07 L144 144.64 L144.65 145.38 L145.31 145.98 L145.97 146.58 L146.62 147.14 L147.28 147.76 L147.94 148.36 L148.6 148.94 L149.25 149.39 L149.91 150.09 L150.57 150.55 L151.22 150.97 L151.88 151.6 L152.54 152.02 L153.19 152.51 L153.85 152.92 L154.51 153.46 L155.16 154.14 L155.82 154.5 L156.48 154.95 L157.13 155.38 L157.79 155.88 L158.45 156.23 L159.1 156.75 L159.76 157.36 L160.42 157.77 L161.07 158.31 L161.73 158.48 L162.39 159.04 L163.04 159.47 L163.7 160 L164.36 160.34 L165.02 160.69 L165.67 161.17 L166.33 161.58 L166.99 162 L167.64 162.22 L168.3 162.81 L168.96 163.28 L169.61 163.61 L170.27 164 L170.93 164.38 L171.58 164.79 L172.24 165.26 L172.9 165.61 L173.55 165.98 L174.21 166.51 L174.87 166.68 L175.52 167.1 L176.18 167.74 L176.84 168.02 L177.49 168.3 L178.15 168.63 L178.81 168.94 L179.46 169.52 L180.12 169.77 L180.78 170.01 L181.44 170.2 L182.09 170.58 L182.75 170.73 L183.41 170.98 L184.06 171.2 L184.72 171.58 L185.38 171.69 L186.03 171.92 L186.69 172.15 L187.35 172.22 L188 172.51 L188.66 172.55 L189.32 172.84 L189.97 172.81 L190.63 172.93 L191.29 173.22 L191.94 173.25 L192.6 173.35 L193.26 173.54 L193.91 173.51 L194.57 173.61 L195.23 173.79 L195.88 173.8 L196.54 173.82 L197.2 173.97 L197.86 174.08 L198.51 173.98 L199.17 174.23 L199.83 174.2 L200.48 174.21 L201.14 174.29 L201.8 174.54 L202.45 174.49 L203.11 174.53 L203.77 174.58 L204.42 174.57 L205.08 174.63 L205.74 174.7 L206.39 174.74 L207.05 174.73 L207.71 174.75 L208.36 175.02 L209.02 174.77 L209.68 175.01 L210.33 174.96 L210.99 175.18 L211.65 175.14 L212.3 175.24 L212.96 175.11 L213.62 175.17 L214.28 175.27 L214.93 175.33 L215.59 175.33 L216.25 175.46 L216.9 175.48 L217.56 175.53 L218.22 175.45 L218.87 175.55 L219.53 175.69 L220.19 175.61 L220.84 175.64 L221.5 175.62 L222.16 175.81 L222.81 175.8 L223.47 175.74 L224.13 175.97 L224.78 176.04 L225.44 176.04 L226.1 176.16 L226.75 176.17 L227.41 176.25 L228.07 176.29 L228.72 176.18 L229.38 176.26 L230.04 176.28 L230.7 176.2 L231.35 176.14 L232.01 176.06 L232.67 175.95 L233.32 175.79 L233.98 175.86 L234.64 175.62 L235.29 175.61 L235.95 175.41 L236.61 175.4 L237.26 175.52 L237.92 175.58 L238.58 175.65 L239.23 175.78 L239.89 175.77 L240.55 175.87 L241.2 176.31 L241.86 176.35 L242.52 176.76 L243.17 177.2 L243.83 177.45 L244.49 177.88 L245.14 178.39 L245.8 178.94 L246.46 179.3 L247.12 179.97 L247.77 180.4 L248.43 180.88 L249.09 181.49 L249.74 182.07 L250.4 182.57 L251.06 182.97 L251.71 183.41 L252.37 184.06 L253.03 184.43 L253.68 184.69 L254.34 185.42 L255 185.66 L255.65 186.09 L256.31 186.47 L256.97 187.09 L257.62 187.31 L258.28 187.86 L258.94 187.96 L259.59 188.55 L260.25 188.78 L260.91 189.26 L261.56 189.49 L262.22 190.03 L262.88 190.14 L263.54 190.42 L264.19 190.81 L264.85 190.87 L265.51 191.31 L266.16 191.5 L266.82 191.79 L267.48 191.81 L268.13 192.45 L268.79 192.6 L269.45 192.8 L270.1 192.85 L270.76 193.1 L271.42 193.17 L272.07 193.45 L272.73 193.8 L273.39 193.85 L274.04 193.89 L274.7 194.71 L275.36 193.94 L276.01 194.59 L276.67 194.67 L277.33 194.63 L277.98 194.9 L278.64 195.38 L279.3 195.12 L279.96 194.71 L280.61 194.9 L281.27 194.9 L281.93 195.56 L282.58 195.52 L283.24 195.15 L283.9 195.05 L284.55 195.61 L285.21 196.02 L285.87 196.42 L286.52 195.25 L287.18 196.36 L287.84 195.67 L288.49 195.53 L289.15 194.65 L289.81 195.83 L290.46 195.96 L291.12 195.75 L291.78 195.75 L292.43 195.43 L293.09 195.7 L293.75 196.28 L294.4 196.82 L295.06 195.87 L295.72 196.26 L296.38 195.43 L297.03 196.52 L297.69 195.9 L298.35 196.27 L299 196.31 L299.66 195.26 L300.32 195.84 L300.97 195.96 L301.63 195.55 L302.29 196.15 L302.94 195.95 L303.6 196.04 L304.26 194.93 L304.91 195.58 L305.57 195.43 L306.23 195.2 L306.88 195.71 L307.54 195.66 L308.2 196.25 L308.85 195.34 L309.51 195.4 L310.17 195.65 L310.82 194.95 L311.48 196.16 L312.14 195.21 L312.8 195.92 L313.45 195.79 L314.11 195.38 L314.77 194.7 L315.42 195.71 L316.08 195.6 L316.74 195.66 L317.39 194.28 L318.05 194.87 L318.71 194.88 L319.36 194.15 L320.02 194.87"/>
<path d="M57.3 159.15 L57.96 160.68 L58.61 162.37 L59.27 163.76 L59.93 165.64 L60.58 167.15 L61.24 168.85 L61.9 170.48 L62.55 172.05 L63.21 173.61 L63.87 175.13 L64.52 176.66 L65.18 178.11 L65.84 179.59 L66.5 180.96 L67.15 182.16 L67.81 183.3 L68.47 184.2 L69.12 185.08 L69.78 185.66 L70.44 186.53 L71.09 187.17 L71.75 187.63 L72.41 188.36 L73.06 188.89 L73.72 189.39 L74.38 190.01 L75.03 190.52 L75.69 190.86 L76.35 191.3 L77 191.74 L77.66 192.13 L78.32 192.37 L78.97 192.7 L79.63 192.81 L80.29 192.96 L80.94 192.96 L81.6 192.97 L82.26 193.02 L82.92 192.87 L83.57 192.71 L84.23 192.47 L84.89 192.07 L85.54 191.61 L86.2 191.18 L86.86 190.68 L87.51 190.21 L88.17 189.81 L88.83 188.94 L89.48 188.28 L90.14 187.66 L90.8 186.89 L91.45 185.94 L92.11 184.73 L92.77 183.68 L93.42 182.26 L94.08 180.9 L94.74 179.43 L95.39 177.98 L96.05 176.46 L96.71 175 L97.36 173.39 L98.02 172.03 L98.68 170.71 L99.34 169.28 L99.99 167.91 L100.65 166.28 L101.31 164.98 L101.96 163.49 L102.62 162.1 L103.28 160.56 L103.93 158.86 L104.59 157.37 L105.25 155.73 L105.9 153.99 L106.56 152.32 L107.22 150.75 L107.87 149.07 L108.53 147.38 L109.19 145.69 L109.84 143.78 L110.5 142.27 L111.16 140.42 L111.81 138.75 L112.47 136.87 L113.13 134.89 L113.78 133.03 L114.44 131.2 L115.1 129.34 L115.76 127.38 L116.41 125.4 L117.07 123.54 L117.73 121.8 L118.38 120.41 L119.04 119.2 L119.7 118.08 L120.35 117.04 L121.01 116.07 L121.67 115.44 L122.32 115.01 L122.98 114.26 L123.64 113.89 L124.29 113.51 L124.95 113.24 L125.61 113.06 L126.26 112.89 L126.92 113.16 L127.58 113.36 L128.23 113.72 L128.89 114.11 L129.55 114.72 L130.2 115.48 L130.86 116.5 L131.52 117.53 L132.18 118.63 L132.83 119.83 L133.49 120.92 L134.15 122.17 L134.8 123.5 L135.46 124.68 L136.12 125.76 L136.77 126.88 L137.43 128.05 L138.09 129.15 L138.74 130.17 L139.4 131.03 L140.06 131.98 L140.71 133.03 L141.37 133.76 L142.03 134.72 L142.68 135.46 L143.34 136.29 L144 137.07 L144.65 137.82 L145.31 138.59 L145.97 139.44 L146.62 140.14 L147.28 140.67 L147.94 141.38 L148.6 142.18 L149.25 142.84 L149.91 143.25 L150.57 143.76 L151.22 144.46 L151.88 145.13 L152.54 145.67 L153.19 146.46 L153.85 146.9 L154.51 147.31 L155.16 147.87 L155.82 148.64 L156.48 148.94 L157.13 149.53 L157.79 150.04 L158.45 150.66 L159.1 151.17 L159.76 151.77 L160.42 152.18 L161.07 152.65 L161.73 153.29 L162.39 153.69 L163.04 154.25 L163.7 154.62 L164.36 155.11 L165.02 155.84 L165.67 156.11 L166.33 156.54 L166.99 157.13 L167.64 157.58 L168.3 158.04 L168.96 158.57 L169.61 158.96 L170.27 159.3 L170.93 159.84 L171.58 160.22 L172.24 160.73 L172.9 161.19 L173.55 161.75 L174.21 162.17 L174.87 162.55 L175.52 163.05 L176.18 163.59 L176.84 164.11 L177.49 164.55 L178.15 164.88 L178.81 165.26 L179.46 165.8 L180.12 166 L180.78 166.31 L181.44 166.63 L182.09 166.99 L182.75 167.08 L183.41 167.47 L184.06 167.92 L184.72 168.14 L185.38 168.28 L186.03 168.55 L186.69 168.81 L187.35 169.04 L188 169.26 L188.66 169.47 L189.32 169.68 L189.97 169.71 L190.63 170.1 L191.29 170.08 L191.94 170.06 L192.6 170.33 L193.26 170.47 L193.91 170.35 L194.57 170.51 L195.23 170.69 L195.88 170.82 L196.54 170.88 L197.2 170.97 L197.86 171.05 L198.51 171.16 L199.17 171.14 L199.83 171.3 L200.48 171.46 L201.14 171.5 L201.8 171.47 L202.45 171.61 L203.11 171.78 L203.77 171.54 L204.42 171.67 L205.08 171.8 L205.74 171.86 L206.39 171.83 L207.05 171.82 L207.71 172.02 L208.36 171.99 L209.02 172.12 L209.68 172.1 L210.33 172.25 L210.99 172.36 L211.65 172.27 L212.3 172.33 L212.96 172.32 L213.62 172.47 L214.28 172.37 L214.93 172.51 L215.59 172.45 L216.25 172.63 L216.9 172.54 L217.56 172.7 L218.22 172.73 L218.87 172.72 L219.53 172.97 L220.19 172.96 L220.84 172.8 L221.5 173.09 L222.16 173.08 L222.81 173.06 L223.47 173.06 L224.13 173.28 L224.78 173.31 L225.44 173.47 L226.1 173.47 L226.75 173.42 L227.41 173.52 L228.07 173.57 L228.72 173.55 L229.38 173.56 L230.04 173.53 L230.7 173.53 L231.35 173.52 L232.01 173.34 L232.67 173.41 L233.32 173.13 L233.98 172.88 L234.64 172.74 L235.29 172.53 L235.95 172.72 L236.61 172.64 L237.26 172.75 L237.92 172.8 L238.58 172.94 L239.23 173.01 L239.89 173.02 L240.55 173.25 L241.2 173.47 L241.86 173.75 L242.52 174.09 L243.17 174.61 L243.83 175.01 L244.49 175.45 L245.14 175.96 L245.8 176.66 L246.46 177.25 L247.12 177.83 L247.77 178.25 L248.43 178.89 L249.09 179.51 L249.74 180.12 L250.4 180.61 L251.06 181.36 L251.71 181.81 L252.37 182.38 L253.03 182.91 L253.68 183.35 L254.34 183.84 L255 184.1 L255.65 184.85 L256.31 185.27 L256.97 185.87 L257.62 186.41 L258.28 186.57 L258.94 186.9 L259.59 187.63 L260.25 187.94 L260.91 188.21 L261.56 188.71 L262.22 189.39 L262.88 189.35 L263.54 189.86 L264.19 190.11 L264.85 190.7 L265.51 190.78 L266.16 191.09 L266.82 191.68 L267.48 191.8 L268.13 192.29 L268.79 192.55 L269.45 192.91 L270.1 193.09 L270.76 193.4 L271.42 193.27 L272.07 193.8 L272.73 194.23 L273.39 193.88 L274.04 194.28 L274.7 194.37 L275.36 194.84 L276.01 194.84 L276.67 195.25 L277.33 195.69 L277.98 195.56 L278.64 195.72 L279.3 195.88 L279.96 195.81 L280.61 196.76 L281.27 196.23 L281.93 196.71 L282.58 196.66 L283.24 196.52 L283.9 196.76 L284.55 197.12 L285.21 196.71 L285.87 197.09 L286.52 196.82 L287.18 196.78 L287.84 197.45 L288.49 197.81 L289.15 197.43 L289.81 197.2 L290.46 197.45 L291.12 198.08 L291.78 198.34 L292.43 198.1 L293.09 198.16 L293.75 197.59 L294.4 197.86 L295.06 197.58 L295.72 198 L296.38 197.34 L297.03 198.04 L297.69 197.85 L298.35 198.26 L299 197.94 L299.66 197.69 L300.32 197.83 L300.97 197.63 L301.63 198.4 L302.29 197.98 L302.94 197.48 L303.6 198.08 L304.26 198.25 L304.91 198.28 L305.57 198.41 L306.23 198.14 L306.88 197.64 L307.54 198.03 L308.2 198.22 L308.85 198.54 L309.51 198.69 L310.17 197.25 L310.82 198.42 L311.48 198.19 L312.14 198.43 L312.8 198.17 L313.45 198.41 L314.11 198.2 L314.77 197.65 L315.42 198.54 L316.08 198.03 L316.74 198.27 L317.39 197.95 L318.05 198.52 L318.71 198.07 L319.36 198.64 L320.02 198.98"/>
<path d="M57.3 152.09 L57.96 153.99 L58.61 155.92 L59.27 157.77 L59.93 159.57 L60.58 161.64 L61.24 163.45 L61.9 165.39 L62.55 167.32 L63.21 169.15 L63.87 170.79 L64.52 172.52 L65.18 174.32 L65.84 176.01 L66.5 177.62 L67.15 179.2 L67.81 180.41 L68.47 181.5 L69.12 182.36 L69.78 183.44 L70.44 184.19 L71.09 184.85 L71.75 185.6 L72.41 186.29 L73.06 186.95 L73.72 187.64 L74.38 188.24 L75.03 188.78 L75.69 189.44 L76.35 189.75 L77 190.39 L77.66 190.5 L78.32 190.89 L78.97 191.27 L79.63 191.36 L80.29 191.58 L80.94 191.66 L81.6 191.69 L82.26 191.65 L82.92 191.52 L83.57 191.25 L84.23 191.01 L84.89 190.65 L85.54 190.26 L86.2 189.82 L86.86 189.02 L87.51 188.48 L88.17 187.99 L88.83 187.18 L89.48 186.48 L90.14 185.91 L90.8 184.96 L91.45 183.85 L92.11 182.5 L92.77 181.18 L93.42 179.69 L94.08 178.19 L94.74 176.5 L95.39 174.97 L96.05 173.15 L96.71 171.45 L97.36 169.94 L98.02 168.25 L98.68 166.61 L99.34 165.03 L99.99 163.5 L100.65 162.07 L101.31 160.42 L101.96 158.82 L102.62 157.04 L103.28 155.49 L103.93 153.78 L104.59 152.06 L105.25 150.14 L105.9 148.31 L106.56 146.54 L107.22 144.69 L107.87 142.77 L108.53 140.75 L109.19 139.02 L109.84 136.99 L110.5 135.02 L111.16 133.05 L111.81 130.98 L112.47 128.97 L113.13 126.95 L113.78 124.8 L114.44 122.77 L115.1 120.71 L115.76 118.51 L116.41 116.43 L117.07 114.28 L117.73 112.53 L118.38 111.04 L119.04 109.53 L119.7 108.3 L120.35 107.05 L121.01 106.02 L121.67 105.2 L122.32 104.62 L122.98 103.97 L123.64 103.34 L124.29 102.93 L124.95 102.71 L125.61 102.53 L126.26 102.4 L126.92 102.51 L127.58 102.88 L128.23 103.27 L128.89 103.77 L129.55 104.23 L130.2 104.85 L130.86 105.89 L131.52 107.3 L132.18 108.46 L132.83 109.7 L133.49 110.97 L134.15 112.15 L134.8 113.47 L135.46 114.84 L136.12 116.06 L136.77 117.4 L137.43 118.5 L138.09 119.74 L138.74 120.7 L139.4 121.81 L140.06 122.79 L140.71 123.74 L141.37 124.84 L142.03 125.74 L142.68 126.6 L143.34 127.5 L144 128.32 L144.65 129.23 L145.31 130.07 L145.97 130.76 L146.62 131.49 L147.28 132.31 L147.94 132.88 L148.6 133.62 L149.25 134.3 L149.91 134.97 L150.57 135.75 L151.22 136.18 L151.88 137.02 L152.54 137.57 L153.19 138.16 L153.85 138.79 L154.51 139.4 L155.16 140.07 L155.82 140.64 L156.48 141.19 L157.13 141.69 L157.79 142.42 L158.45 142.9 L159.1 143.49 L159.76 144.08 L160.42 144.68 L161.07 145.21 L161.73 145.86 L162.39 146.28 L163.04 146.8 L163.7 147.39 L164.36 147.84 L165.02 148.38 L165.67 148.98 L166.33 149.38 L166.99 149.99 L167.64 150.29 L168.3 151.04 L168.96 151.53 L169.61 152.02 L170.27 152.46 L170.93 152.9 L171.58 153.48 L172.24 154.03 L172.9 154.38 L173.55 154.96 L174.21 155.57 L174.87 156.07 L175.52 156.67 L176.18 157.05 L176.84 157.42 L177.49 158.09 L178.15 158.56 L178.81 158.88 L179.46 159.46 L180.12 159.58 L180.78 160.14 L181.44 160.42 L182.09 160.71 L182.75 160.94 L183.41 161.31 L184.06 161.77 L184.72 162.05 L185.38 162.2 L186.03 162.63 L186.69 162.76 L187.35 163.04 L188 163.15 L188.66 163.33 L189.32 163.78 L189.97 163.73 L190.63 163.87 L191.29 164.12 L191.94 164.24 L192.6 164.41 L193.26 164.48 L193.91 164.54 L194.57 164.59 L195.23 164.69 L195.88 164.91 L196.54 165.05 L197.2 165.01 L197.86 165.37 L198.51 165.36 L199.17 165.3 L199.83 165.27 L200.48 165.56 L201.14 165.58 L201.8 165.74 L202.45 165.74 L203.11 165.81 L203.77 165.92 L204.42 165.9 L205.08 166.01 L205.74 166.02 L206.39 166.13 L207.05 166.26 L207.71 166.22 L208.36 166.23 L209.02 166.4 L209.68 166.3 L210.33 166.42 L210.99 166.54 L211.65 166.57 L212.3 166.66 L212.96 166.75 L213.62 166.68 L214.28 166.73 L214.93 166.88 L215.59 166.92 L216.25 166.98 L216.9 166.96 L217.56 166.96 L218.22 167.17 L218.87 167.15 L219.53 167.23 L220.19 167.25 L220.84 167.24 L221.5 167.47 L222.16 167.62 L222.81 167.56 L223.47 167.75 L224.13 167.6 L224.78 167.86 L225.44 167.91 L226.1 167.95 L226.75 168.02 L227.41 168.11 L228.07 168.11 L228.72 168.06 L229.38 168.14 L230.04 167.95 L230.7 168.01 L231.35 168.14 L232.01 167.83 L232.67 167.94 L233.32 167.66 L233.98 167.31 L234.64 167.17 L235.29 167.15 L235.95 167.05 L236.61 167.01 L237.26 166.95 L237.92 167.17 L238.58 167.12 L239.23 167.3 L239.89 167.54 L240.55 167.81 L241.2 167.98 L241.86 168.54 L242.52 168.9 L243.17 169.23 L243.83 169.77 L244.49 170.56 L245.14 171.19 L245.8 171.9 L246.46 172.48 L247.12 173.28 L247.77 173.82 L248.43 174.54 L249.09 175.25 L249.74 175.94 L250.4 176.62 L251.06 177.3 L251.71 178.05 L252.37 178.69 L253.03 179.28 L253.68 179.97 L254.34 180.49 L255 181.19 L255.65 181.83 L256.31 182.32 L256.97 182.74 L257.62 183.29 L258.28 184.12 L258.94 184.45 L259.59 185.04 L260.25 185.51 L260.91 186 L261.56 186.46 L262.22 186.95 L262.88 187.38 L263.54 187.76 L264.19 188.39 L264.85 188.8 L265.51 189.18 L266.16 189.58 L266.82 189.69 L267.48 190.31 L268.13 190.48 L268.79 190.77 L269.45 190.96 L270.1 191.39 L270.76 191.47 L271.42 191.97 L272.07 192.16 L272.73 192.3 L273.39 193.04 L274.04 192.85 L274.7 192.8 L275.36 193.37 L276.01 193.68 L276.67 193.32 L277.33 194.01 L277.98 193.88 L278.64 195.11 L279.3 194.55 L279.96 194.89 L280.61 194.75 L281.27 194.62 L281.93 195.17 L282.58 195.31 L283.24 196.29 L283.9 195.18 L284.55 195.09 L285.21 195.59 L285.87 195.9 L286.52 195.68 L287.18 195.52 L287.84 195.72 L288.49 195.25 L289.15 196.28 L289.81 196.63 L290.46 195.98 L291.12 195.73 L291.78 196.43 L292.43 196.29 L293.09 196.58 L293.75 196.85 L294.4 196.69 L295.06 197.24 L295.72 196.35 L296.38 196.3 L297.03 196.15 L297.69 196.84 L298.35 196.77 L299 197.18 L299.66 197.09 L300.32 196.15 L300.97 195.37 L301.63 196.89 L302.29 196.62 L302.94 196.07 L303.6 196.7 L304.26 196.18 L304.91 196.51 L305.57 196.5 L306.23 196 L306.88 196.44 L307.54 196.83 L308.2 195.97 L308.85 196.27 L309.51 196.48 L310.17 196.56 L310.82 195.99 L311.48 196.49 L312.14 196.13 L312.8 195.75 L313.45 196.17 L314.11 195.67 L314.77 196.64 L315.42 195.82 L316.08 195.82 L316.74 195.26 L317.39 195.98 L318.05 195.6 L318.71 195.99 L319.36 196.33 L320.02 196.23"/>
<path d="M57.3 144.45 L57.96 146.6 L58.61 148.95 L59.27 151.12 L59.93 153.28 L60.58 155.49 L61.24 157.76 L61.9 159.96 L62.55 162.34 L63.21 164.41 L63.87 166.38 L64.52 168.36 L65.18 170.44 L65.84 172.52 L66.5 174.36 L67.15 176.21 L67.81 177.57 L68.47 179.04 L69.12 180.03 L69.78 180.97 L70.44 181.9 L71.09 182.93 L71.75 183.63 L72.41 184.49 L73.06 185.29 L73.72 185.93 L74.38 186.76 L75.03 187.55 L75.69 188.13 L76.35 188.54 L77 189.09 L77.66 189.65 L78.32 190.09 L78.97 190.33 L79.63 190.55 L80.29 190.64 L80.94 190.87 L81.6 190.86 L82.26 190.75 L82.92 190.79 L83.57 190.48 L84.23 190.01 L84.89 189.75 L85.54 189.25 L86.2 188.64 L86.86 188.16 L87.51 187.47 L88.17 186.85 L88.83 185.95 L89.48 185.25 L90.14 184.43 L90.8 183.65 L91.45 182.25 L92.11 180.94 L92.77 179.56 L93.42 177.8 L94.08 176.35 L94.74 174.4 L95.39 172.69 L96.05 170.53 L96.71 169.07 L97.36 167.17 L98.02 165.42 L98.68 163.62 L99.34 161.93 L99.99 160.25 L100.65 158.57 L101.31 156.65 L101.96 155.07 L102.62 153.19 L103.28 151.24 L103.93 149.56 L104.59 147.61 L105.25 145.53 L105.9 143.59 L106.56 141.71 L107.22 139.58 L107.87 137.39 L108.53 135.47 L109.19 133.3 L109.84 131.23 L110.5 129.16 L111.16 126.85 L111.81 124.71 L112.47 122.46 L113.13 120.31 L113.78 118.05 L114.44 115.81 L115.1 113.48 L115.76 111.13 L116.41 108.76 L117.07 106.4 L117.73 104.6 L118.38 102.88 L119.04 101.3 L119.7 99.84 L120.35 98.58 L121.01 97.45 L121.67 96.49 L122.32 95.88 L122.98 95.24 L123.64 94.46 L124.29 94.15 L124.95 93.57 L125.61 93.36 L126.26 93.39 L126.92 93.43 L127.58 93.72 L128.23 94.02 L128.89 94.57 L129.55 95.22 L130.2 96.09 L130.86 97.26 L131.52 98.44 L132.18 99.8 L132.83 100.97 L133.49 102.31 L134.15 103.65 L134.8 105.02 L135.46 106.51 L136.12 107.88 L136.77 109.28 L137.43 110.49 L138.09 111.7 L138.74 112.78 L139.4 113.9 L140.06 115.13 L140.71 116.24 L141.37 117.12 L142.03 118.08 L142.68 119.18 L143.34 119.97 L144 120.99 L144.65 121.89 L145.31 122.72 L145.97 123.68 L146.62 124.51 L147.28 125.2 L147.94 126.03 L148.6 126.7 L149.25 127.43 L149.91 128.33 L150.57 128.91 L151.22 129.51 L151.88 130.39 L152.54 130.92 L153.19 131.65 L153.85 132.34 L154.51 132.77 L155.16 133.41 L155.82 134.15 L156.48 134.79 L157.13 135.29 L157.79 135.93 L158.45 136.63 L159.1 137.18 L159.76 137.85 L160.42 138.48 L161.07 139 L161.73 139.66 L162.39 140.18 L163.04 140.81 L163.7 141.4 L164.36 141.97 L165.02 142.46 L165.67 142.99 L166.33 143.58 L166.99 144.22 L167.64 144.67 L168.3 145.32 L168.96 145.88 L169.61 146.35 L170.27 146.82 L170.93 147.37 L171.58 147.92 L172.24 148.41 L172.9 149 L173.55 149.65 L174.21 150.12 L174.87 150.74 L175.52 151.24 L176.18 151.76 L176.84 152.32 L177.49 152.92 L178.15 153.31 L178.81 153.79 L179.46 154.21 L180.12 154.64 L180.78 155.07 L181.44 155.47 L182.09 155.66 L182.75 156 L183.41 156.37 L184.06 156.73 L184.72 156.9 L185.38 157.3 L186.03 157.63 L186.69 157.85 L187.35 158.17 L188 158.36 L188.66 158.61 L189.32 158.79 L189.97 159 L190.63 159.2 L191.29 159.29 L191.94 159.4 L192.6 159.68 L193.26 159.79 L193.91 159.95 L194.57 159.94 L195.23 160.13 L195.88 160.16 L196.54 160.39 L197.2 160.37 L197.86 160.57 L198.51 160.66 L199.17 160.68 L199.83 160.83 L200.48 160.94 L201.14 160.92 L201.8 161.07 L202.45 161.06 L203.11 161.04 L203.77 161.33 L204.42 161.39 L205.08 161.54 L205.74 161.58 L206.39 161.52 L207.05 161.61 L207.71 161.67 L208.36 161.72 L209.02 161.88 L209.68 162 L210.33 161.87 L210.99 161.99 L211.65 162 L212.3 162.14 L212.96 162.15 L213.62 162.31 L214.28 162.33 L214.93 162.4 L215.59 162.43 L216.25 162.41 L216.9 162.53 L217.56 162.84 L218.22 162.7 L218.87 162.76 L219.53 162.77 L220.19 162.88 L220.84 163 L221.5 163.08 L222.16 163.12 L222.81 163.23 L223.47 163.18 L224.13 163.34 L224.78 163.48 L225.44 163.51 L226.1 163.51 L226.75 163.75 L227.41 163.8 L228.07 163.85 L228.72 163.93 L229.38 163.88 L230.04 163.86 L230.7 163.7 L231.35 163.63 L232.01 163.52 L232.67 163.55 L233.32 163.27 L233.98 163.16 L234.64 162.85 L235.29 162.54 L235.95 162.46 L236.61 162.49 L237.26 162.47 L237.92 162.62 L238.58 162.8 L239.23 162.95 L239.89 163.22 L240.55 163.45 L241.2 163.88 L241.86 164.25 L242.52 164.72 L243.17 165.32 L243.83 165.65 L244.49 166.47 L245.14 167.44 L245.8 168.05 L246.46 168.94 L247.12 169.88 L247.77 170.53 L248.43 171.27 L249.09 172.01 L249.74 172.77 L250.4 173.73 L251.06 174.47 L251.71 175.2 L252.37 175.97 L253.03 176.71 L253.68 177.45 L254.34 178.05 L255 178.96 L255.65 179.65 L256.31 180.02 L256.97 180.78 L257.62 181.34 L258.28 182.03 L258.94 182.68 L259.59 183.27 L260.25 183.78 L260.91 184.4 L261.56 184.89 L262.22 185.42 L262.88 185.83 L263.54 186.34 L264.19 186.74 L264.85 187.52 L265.51 187.9 L266.16 188.21 L266.82 188.74 L267.48 189.59 L268.13 189.55 L268.79 189.99 L269.45 190.44 L270.1 190.79 L270.76 191.2 L271.42 191.16 L272.07 191.56 L272.73 191.97 L273.39 192.05 L274.04 192.37 L274.7 193.06 L275.36 193.4 L276.01 193.66 L276.67 193.46 L277.33 193.92 L277.98 193.81 L278.64 194.22 L279.3 194.64 L279.96 195.15 L280.61 195.02 L281.27 194.4 L281.93 195.47 L282.58 195.67 L283.24 195.61 L283.9 195.22 L284.55 195.82 L285.21 196.31 L285.87 196.26 L286.52 196.2 L287.18 196.23 L287.84 195.99 L288.49 195.53 L289.15 196.02 L289.81 196.35 L290.46 196.66 L291.12 197.02 L291.78 196.56 L292.43 196.36 L293.09 196.59 L293.75 197.01 L294.4 196.76 L295.06 197.14 L295.72 197.17 L296.38 197.23 L297.03 197.15 L297.69 197.24 L298.35 196.84 L299 197.25 L299.66 197.3 L300.32 196.86 L300.97 197 L301.63 196.82 L302.29 197.56 L302.94 196.75 L303.6 197.26 L304.26 197.66 L304.91 197.31 L305.57 197.73 L306.23 197.63 L306.88 197.4 L307.54 196.86 L308.2 197.75 L308.85 197.11 L309.51 197.31 L310.17 196.6 L310.82 197.12 L311.48 196.95 L312.14 196.63 L312.8 197.6 L313.45 197.29 L314.11 197.73 L314.77 197.46 L315.42 197 L316.08 197.18 L316.74 196.94 L317.39 197.24 L318.05 197.34 L318.71 197.11 L319.36 197.39 L320.02 197.46"/>
</g>
<path stroke="#000" stroke-width="1.4" fill="none" d="M57.3 12.5 V207.3 H320.1"/>
<text transform="translate(48,206.7) scale(1.06,1)" font-size="14" text-anchor="end" fill="#000">0.00</text>
<text transform="translate(48,159.32) scale(1.06,1)" font-size="14" text-anchor="end" fill="#000">0.02</text>
<text transform="translate(48,111.94) scale(1.06,1)" font-size="14" text-anchor="end" fill="#000">0.04</text>
<text transform="translate(48,64.56) scale(1.06,1)" font-size="14" text-anchor="end" fill="#000">0.06</text>
<text transform="translate(48,17.18) scale(1.06,1)" font-size="14" text-anchor="end" fill="#000">0.08</text>
<text transform="translate(57.3,227) scale(1.06,1)" font-size="14" text-anchor="middle" fill="#000">400</text>
<text transform="translate(122.98,227) scale(1.06,1)" font-size="14" text-anchor="middle" fill="#000">500</text>
<text transform="translate(188.66,227) scale(1.06,1)" font-size="14" text-anchor="middle" fill="#000">600</text>
<text transform="translate(254.34,227) scale(1.06,1)" font-size="14" text-anchor="middle" fill="#000">700</text>
<text transform="translate(320.02,227) scale(1.06,1)" font-size="14" text-anchor="middle" fill="#000">800</text>
<path stroke="#000" stroke-width="1.4" fill="none" d="M53.3 202.5 H57.3 M53.3 155.12 H57.3 M53.3 107.74 H57.3 M53.3 60.36 H57.3 M53.3 12.98 H57.3 M55 178.81 H57.3 M55 131.43 H57.3 M55 84.05 H57.3 M55 36.67 H57.3 M57.3 207.4 V211 M122.98 207.4 V211 M188.66 207.4 V211 M254.34 207.4 V211 M320.02 207.4 V211 M90.14 207.4 V209.5 M155.82 207.4 V209.5 M221.5 207.4 V209.5 M287.18 207.4 V209.5"/>
<text transform="translate(188.6,245.8) scale(1.06,1)" font-size="14" text-anchor="middle" fill="#000">Wavelength (nm)</text>
<text transform="translate(11,108) rotate(-90)" font-size="14" text-anchor="middle">Abs.</text>
<text transform="translate(0.5,13) scale(1.06,1)" font-size="18" font-weight="bold" fill="#000">a</text>
<rect x="71" y="18.1" width="2.8" height="37" fill="#a0520f"/>
<circle cx="85.3" cy="36.8" r="10.7" fill="none" stroke="#000" stroke-width="1.6"/>
<text transform="translate(85.3,41.4) scale(1.06,1)" font-size="12.7" text-anchor="middle" font-weight="bold" fill="#e46c0a">Os</text>
<circle cx="109" cy="36.8" r="10.7" fill="none" stroke="#000" stroke-width="1.6"/>
<text transform="translate(109,41.4) scale(1.06,1)" font-size="12.7" text-anchor="middle" font-weight="bold" fill="#e46c0a">Os</text>
<circle cx="132.7" cy="36.8" r="10.7" fill="none" stroke="#000" stroke-width="1.6"/>
<text transform="translate(132.7,41.4) scale(1.06,1)" font-size="12.7" text-anchor="middle" font-weight="bold" fill="#e46c0a">Os</text>
<circle cx="156.4" cy="36.8" r="10.7" fill="none" stroke="#000" stroke-width="1.6"/>
<text transform="translate(156.4,41.4) scale(1.06,1)" font-size="12.7" text-anchor="middle" font-weight="bold" fill="#e46c0a">Os</text>
<circle cx="180.1" cy="36.8" r="10.7" fill="none" stroke="#000" stroke-width="1.6"/>
<text transform="translate(180.1,41.4) scale(1.06,1)" font-size="12.7" text-anchor="middle" font-weight="bold" fill="#e46c0a">Os</text>
<circle cx="203.8" cy="36.8" r="10.7" fill="none" stroke="#000" stroke-width="1.6"/>
<text transform="translate(203.8,41.4) scale(1.06,1)" font-size="12.7" text-anchor="middle" font-weight="bold" fill="#e46c0a">Os</text>
<circle cx="227.5" cy="36.8" r="10.7" fill="none" stroke="#000" stroke-width="1.6"/>
<text transform="translate(227.5,41.4) scale(1.06,1)" font-size="12.7" text-anchor="middle" font-weight="bold" fill="#e46c0a">Os</text>
<circle cx="251.2" cy="36.8" r="10.7" fill="none" stroke="#000" stroke-width="1.6"/>
<text transform="translate(251.2,41.4) scale(1.06,1)" font-size="12.7" text-anchor="middle" font-weight="bold" fill="#e46c0a">Os</text>
<circle cx="274.9" cy="36.8" r="10.7" fill="none" stroke="#000" stroke-width="1.6"/>
<text transform="translate(274.9,41.4) scale(1.06,1)" font-size="12.7" text-anchor="middle" font-weight="bold" fill="#e46c0a">Os</text>
<circle cx="298.6" cy="36.8" r="10.7" fill="none" stroke="#000" stroke-width="1.6"/>
<text transform="translate(298.6,41.4) scale(1.06,1)" font-size="12.7" text-anchor="middle" font-weight="bold" fill="#e46c0a">Os</text>
<text transform="translate(66.4,70.5) scale(1.06,1)" font-size="14" fill="#e46c0a">O1</text>
<text transform="translate(90.33,70.5) scale(1.06,1)" font-size="14" fill="#e46c0a">O2</text>
<text transform="translate(114.26,70.5) scale(1.06,1)" font-size="14" fill="#e46c0a">O3</text>
<text transform="translate(138.19,70.5) scale(1.06,1)" font-size="14" fill="#e46c0a">O4</text>
<text transform="translate(162.12,70.5) scale(1.06,1)" font-size="14" fill="#e46c0a">O5</text>
<text transform="translate(186.05,70.5) scale(1.06,1)" font-size="14" fill="#e46c0a">O6</text>
<text transform="translate(209.98,70.5) scale(1.06,1)" font-size="14" fill="#e46c0a">O7</text>
<text transform="translate(233.91,70.5) scale(1.06,1)" font-size="14" fill="#e46c0a">O8</text>
<text transform="translate(257.84,70.5) scale(1.06,1)" font-size="14" fill="#e46c0a">O9</text>
<text transform="translate(281.77,70.5) scale(1.06,1)" font-size="14" fill="#e46c0a">O10</text>
<text transform="translate(196,91.8) scale(1.06,1)" font-size="14" fill="#000"><tspan font-style="italic">n</tspan> = 10</text>
<text transform="translate(197.8,147.8) scale(1.06,1)" font-size="14" fill="#000"><tspan font-style="italic">n</tspan> = 1</text>
<path d="M213.5 130.5 V96" stroke="#000" stroke-width="1.2"/>
<path d="M213.5 94.8 L211.2 99.8 L213.5 98.6 L215.8 99.8 Z" fill="#000" stroke="#000" stroke-width="0.6"/>
<path stroke="#000" stroke-width="1.4" fill="none" d="M391.8 207.4 H659.1"/>
<text transform="translate(416.1,227) scale(1.06,1)" font-size="14" text-anchor="middle" fill="#000">0</text>
<text transform="translate(464.7,227) scale(1.06,1)" font-size="14" text-anchor="middle" fill="#000">2</text>
<text transform="translate(513.3,227) scale(1.06,1)" font-size="14" text-anchor="middle" fill="#000">4</text>
<text transform="translate(561.9,227) scale(1.06,1)" font-size="14" text-anchor="middle" fill="#000">6</text>
<text transform="translate(610.5,227) scale(1.06,1)" font-size="14" text-anchor="middle" fill="#000">8</text>
<text transform="translate(659.1,227) scale(1.06,1)" font-size="14" text-anchor="middle" fill="#000">10</text>
<path stroke="#000" stroke-width="1.4" fill="none" d="M391.8 207.4 V209.5 M416.1 207.4 V210.8 M440.4 207.4 V209.5 M464.7 207.4 V210.8 M489 207.4 V209.5 M513.3 207.4 V210.8 M537.6 207.4 V209.5 M561.9 207.4 V210.8 M586.2 207.4 V209.5 M610.5 207.4 V210.8 M634.8 207.4 V209.5 M659.1 207.4 V210.8"/>
<text transform="translate(534.5,244.3) scale(1.06,1)" font-size="14" text-anchor="middle" fill="#000">Switching times (<tspan font-style="italic">n</tspan>)</text>
<text transform="translate(358,13.3) scale(1.06,1)" font-size="18" font-weight="bold" fill="#000">b</text>
<path d="M416.8 179.79 L634.3 21.64" stroke="#000" stroke-width="1.4"/>
<path d="M415.7 189.76 L635 132.57" stroke="#000" stroke-width="1.4"/>
<rect x="413.3" y="173.1" width="7" height="7" fill="#e46c0a"/>
<rect x="437.8" y="159.4" width="7" height="7" fill="#e46c0a"/>
<rect x="461.1" y="146" width="7" height="7" fill="#e46c0a"/>
<rect x="484.8" y="123.7" width="7" height="7" fill="#e46c0a"/>
<rect x="510.3" y="107.7" width="7" height="7" fill="#e46c0a"/>
<rect x="535" y="86.6" width="7" height="7" fill="#e46c0a"/>
<rect x="558.9" y="68.4" width="7" height="7" fill="#e46c0a"/>
<rect x="582.9" y="49.7" width="7" height="7" fill="#e46c0a"/>
<rect x="607.5" y="36.4" width="7" height="7" fill="#e46c0a"/>
<rect x="630.8" y="19.8" width="7" height="7" fill="#e46c0a"/>
<circle cx="415.7" cy="187.3" r="3.7" fill="#e46c0a"/>
<circle cx="440.3" cy="183.4" r="3.7" fill="#e46c0a"/>
<circle cx="464.8" cy="178.3" r="3.7" fill="#e46c0a"/>
<circle cx="488.3" cy="172.1" r="3.7" fill="#e46c0a"/>
<circle cx="513" cy="164.8" r="3.7" fill="#e46c0a"/>
<circle cx="537.6" cy="158.8" r="3.7" fill="#e46c0a"/>
<circle cx="562.3" cy="151.4" r="3.7" fill="#e46c0a"/>
<circle cx="585.6" cy="145.3" r="3.7" fill="#e46c0a"/>
<circle cx="610.3" cy="139" r="3.7" fill="#e46c0a"/>
<circle cx="635" cy="131.4" r="3.7" fill="#e46c0a"/>
<text transform="translate(408.4,161.3) scale(1.06,1)" font-size="14" fill="#e46c0a">O1</text>
<text transform="translate(429.4,147.4) scale(1.06,1)" font-size="14" fill="#e46c0a">O2</text>
<text transform="translate(451.9,133.7) scale(1.06,1)" font-size="14" fill="#e46c0a">O3</text>
<text transform="translate(474.8,118) scale(1.06,1)" font-size="14" fill="#e46c0a">O4</text>
<text transform="translate(497.4,100.6) scale(1.06,1)" font-size="14" fill="#e46c0a">O5</text>
<text transform="translate(522.1,80) scale(1.06,1)" font-size="14" fill="#e46c0a">O6</text>
<text transform="translate(544.7,64.2) scale(1.06,1)" font-size="14" fill="#e46c0a">O7</text>
<text transform="translate(565.8,45.5) scale(1.06,1)" font-size="14" fill="#e46c0a">O8</text>
<text transform="translate(589.8,32.2) scale(1.06,1)" font-size="14" fill="#e46c0a">O9</text>
<text transform="translate(621.8,43.4) scale(1.06,1)" font-size="14" fill="#e46c0a">O10</text>
<rect x="425" y="40.8" width="7" height="7" fill="#e46c0a"/>
<circle cx="428.9" cy="67.3" r="3.7" fill="#e46c0a"/>
<text transform="translate(437.8,48.5) scale(1.06,1)" font-size="12.3" fill="#000">505 nm</text>
<text transform="translate(437.8,72.5) scale(1.06,1)" font-size="12.3" fill="#000">680 nm</text>
<path d="M399.5 120 V71.5" stroke="#000" stroke-width="1.2"/>
<path d="M399.5 69.9 L397.1 74.8 L399.5 73.6 L401.9 74.8 Z" fill="#000" stroke="#000" stroke-width="0.6"/>
<text transform="translate(393.3,97.8) rotate(-90)" font-size="14" text-anchor="middle">Abs.</text>
<text transform="translate(567.2,88.7) scale(1.06,1)" font-size="14" fill="#000"><tspan font-style="italic">R</tspan><tspan font-size="10" dy="-5.5">2</tspan><tspan dy="5.5"> = 0.991</tspan></text>
<text transform="translate(566.5,173.6) scale(1.06,1)" font-size="14" fill="#000"><tspan font-style="italic">R</tspan><tspan font-size="10" dy="-5.5">2</tspan><tspan dy="5.5"> = 0.996</tspan></text>
<g fill="none" stroke="#ff8000" stroke-width="1.65" stroke-linejoin="round">
<path d="M37.66 358.3 L39.03 358.29 L40.41 358.27 L41.78 358.26 L43.15 358.24 L44.53 358.22 L45.9 358.2 L47.27 358.18 L48.64 358.15 L50.02 358.13 L51.39 358.1 L52.76 358.08 L54.14 358.05 L55.51 358.02 L56.88 357.99 L58.25 357.96 L59.63 357.93 L61 357.9 L62.37 357.87 L63.75 357.83 L65.12 357.8 L66.49 357.77 L67.87 357.73 L69.24 357.69 L70.61 357.65 L71.98 357.61 L73.36 357.57 L74.73 357.52 L76.1 357.48 L77.48 357.43 L78.85 357.38 L80.22 357.33 L81.6 357.28 L82.97 357.22 L84.34 357.17 L85.72 357.11 L87.09 357.05 L88.46 356.99 L89.83 356.93 L91.21 356.86 L92.58 356.8 L93.95 356.73 L95.33 356.67 L96.7 356.6 L98.07 356.53 L99.44 356.47 L100.82 356.39 L102.19 356.32 L103.56 356.24 L104.94 356.16 L106.31 356.08 L107.68 355.99 L109.06 355.89 L110.43 355.79 L111.8 355.69 L113.18 355.57 L114.55 355.46 L115.92 355.33 L117.29 355.19 L118.67 355.05 L120.04 354.9 L121.41 354.72 L122.79 354.49 L124.16 354.21 L125.53 353.9 L126.91 353.56 L128.28 353.2 L129.65 352.81 L131.02 352.41 L132.4 352.01 L133.77 351.6 L135.14 351.19 L136.52 350.8 L137.89 350.39 L139.26 349.95 L140.63 349.49 L142.01 349.02 L143.38 348.55 L144.75 348.1 L146.13 347.68 L147.5 347.3 L148.87 346.91 L150.25 346.5 L151.62 346.13 L152.99 345.84 L154.37 345.7 L155.74 345.72 L157.11 345.81 L158.48 345.95 L159.86 346.14 L161.23 346.35 L162.6 346.57 L163.98 346.8 L165.35 347.06 L166.72 347.39 L168.1 347.77 L169.47 348.18 L170.84 348.61 L172.21 349.03 L173.59 349.44 L174.96 349.8 L176.33 350.14 L177.71 350.48 L179.08 350.83 L180.45 351.17 L181.83 351.51 L183.2 351.85 L184.57 352.18 L185.94 352.51 L187.32 352.83 L188.69 353.14 L190.06 353.45 L191.44 353.75 L192.81 354.03 L194.18 354.3 L195.55 354.56 L196.93 354.81 L198.3 355.04 L199.67 355.25 L201.05 355.45 L202.42 355.65 L203.79 355.84 L205.17 356.03 L206.54 356.22 L207.91 356.41 L209.28 356.59 L210.66 356.76 L212.03 356.93 L213.4 357.1 L214.78 357.25 L216.15 357.41 L217.52 357.55 L218.9 357.69 L220.27 357.82 L221.64 357.95 L223.02 358.06 L224.39 358.17 L225.76 358.27 L227.13 358.35 L228.51 358.43 L229.88 358.5 L231.25 358.56 L232.63 358.62 L234 358.68 L235.37 358.74 L236.74 358.8 L238.12 358.86 L239.49 358.91 L240.86 358.96 L242.24 359.01 L243.61 359.06 L244.98 359.1 L246.36 359.14 L247.73 359.17 L249.1 359.21 L250.48 359.23 L251.85 359.26 L253.22 359.28 L254.59 359.29 L255.97 359.3 L257.34 359.3 L257.34 368.8 L255.97 368.83 L254.59 368.85 L253.22 368.88 L251.85 368.91 L250.48 368.94 L249.1 368.97 L247.73 369 L246.36 369.04 L244.98 369.07 L243.61 369.11 L242.24 369.14 L240.86 369.18 L239.49 369.22 L238.12 369.25 L236.74 369.29 L235.37 369.33 L234 369.37 L232.63 369.42 L231.25 369.46 L229.88 369.5 L228.51 369.54 L227.13 369.59 L225.76 369.63 L224.39 369.68 L223.02 369.72 L221.64 369.77 L220.27 369.82 L218.9 369.87 L217.52 369.92 L216.15 369.98 L214.78 370.03 L213.4 370.09 L212.03 370.14 L210.66 370.2 L209.28 370.26 L207.91 370.33 L206.54 370.39 L205.17 370.46 L203.79 370.53 L202.42 370.6 L201.05 370.68 L199.67 370.76 L198.3 370.86 L196.93 370.95 L195.55 371.06 L194.18 371.16 L192.81 371.27 L191.44 371.38 L190.06 371.49 L188.69 371.6 L187.32 371.7 L185.94 371.8 L184.57 371.9 L183.2 372.01 L181.83 372.13 L180.45 372.25 L179.08 372.38 L177.71 372.5 L176.33 372.62 L174.96 372.73 L173.59 372.83 L172.21 372.92 L170.84 373 L169.47 373.05 L168.1 373.09 L166.72 373.1 L165.35 373.07 L163.98 372.98 L162.6 372.84 L161.23 372.67 L159.86 372.45 L158.48 372.21 L157.11 371.95 L155.74 371.67 L154.37 371.4 L152.99 371.12 L151.62 370.85 L150.25 370.6 L148.87 370.35 L147.5 370.09 L146.13 369.82 L144.75 369.54 L143.38 369.26 L142.01 368.97 L140.63 368.67 L139.26 368.38 L137.89 368.09 L136.52 367.8 L135.14 367.5 L133.77 367.19 L132.4 366.86 L131.02 366.52 L129.65 366.19 L128.28 365.85 L126.91 365.53 L125.53 365.23 L124.16 364.95 L122.79 364.7 L121.41 364.48 L120.04 364.3 L118.67 364.15 L117.29 364.01 L115.92 363.87 L114.55 363.75 L113.18 363.63 L111.8 363.52 L110.43 363.41 L109.06 363.31 L107.68 363.22 L106.31 363.13 L104.94 363.04 L103.56 362.95 L102.19 362.87 L100.82 362.79 L99.44 362.71 L98.07 362.63 L96.7 362.55 L95.33 362.47 L93.95 362.38 L92.58 362.3 L91.21 362.21 L89.83 362.13 L88.46 362.04 L87.09 361.95 L85.72 361.86 L84.34 361.77 L82.97 361.68 L81.6 361.6 L80.22 361.51 L78.85 361.43 L77.48 361.35 L76.1 361.27 L74.73 361.2 L73.36 361.13 L71.98 361.06 L70.61 361 L69.24 360.94 L67.87 360.89 L66.49 360.84 L65.12 360.8 L63.75 360.76 L62.37 360.73 L61 360.69 L59.63 360.65 L58.25 360.62 L56.88 360.58 L55.51 360.55 L54.14 360.52 L52.76 360.49 L51.39 360.46 L50.02 360.43 L48.64 360.4 L47.27 360.38 L45.9 360.36 L44.53 360.34 L43.15 360.33 L41.78 360.32 L40.41 360.31 L39.03 360.3 L37.66 360.3"/>
<path d="M37.66 358.3 L39.03 358.29 L40.41 358.27 L41.78 358.26 L43.15 358.24 L44.53 358.22 L45.9 358.2 L47.27 358.18 L48.64 358.15 L50.02 358.13 L51.39 358.1 L52.76 358.07 L54.14 358.04 L55.51 358.01 L56.88 357.98 L58.25 357.95 L59.63 357.91 L61 357.87 L62.37 357.83 L63.75 357.79 L65.12 357.75 L66.49 357.71 L67.87 357.66 L69.24 357.61 L70.61 357.56 L71.98 357.5 L73.36 357.44 L74.73 357.38 L76.1 357.3 L77.48 357.22 L78.85 357.12 L80.22 357.02 L81.6 356.91 L82.97 356.8 L84.34 356.68 L85.72 356.55 L87.09 356.43 L88.46 356.31 L89.83 356.18 L91.21 356.04 L92.58 355.9 L93.95 355.76 L95.33 355.61 L96.7 355.45 L98.07 355.29 L99.44 355.11 L100.82 354.92 L102.19 354.7 L103.56 354.48 L104.94 354.24 L106.31 353.98 L107.68 353.71 L109.06 353.42 L110.43 353.12 L111.8 352.81 L113.18 352.48 L114.55 352.13 L115.92 351.78 L117.29 351.41 L118.67 351.04 L120.04 350.66 L121.41 350.23 L122.79 349.74 L124.16 349.18 L125.53 348.56 L126.91 347.93 L128.28 347.29 L129.65 346.66 L131.02 346.04 L132.4 345.43 L133.77 344.84 L135.14 344.28 L136.52 343.74 L137.89 343.21 L139.26 342.68 L140.63 342.15 L142.01 341.65 L143.38 341.22 L144.75 340.83 L146.13 340.49 L147.5 340.18 L148.87 339.9 L150.25 339.62 L151.62 339.38 L152.99 339.24 L154.37 339.27 L155.74 339.47 L157.11 339.73 L158.48 340.05 L159.86 340.41 L161.23 340.81 L162.6 341.23 L163.98 341.64 L165.35 342.09 L166.72 342.61 L168.1 343.16 L169.47 343.74 L170.84 344.33 L172.21 344.91 L173.59 345.46 L174.96 345.98 L176.33 346.46 L177.71 346.94 L179.08 347.41 L180.45 347.87 L181.83 348.34 L183.2 348.81 L184.57 349.27 L185.94 349.71 L187.32 350.14 L188.69 350.56 L190.06 350.96 L191.44 351.36 L192.81 351.74 L194.18 352.09 L195.55 352.43 L196.93 352.74 L198.3 353.03 L199.67 353.3 L201.05 353.56 L202.42 353.81 L203.79 354.05 L205.17 354.28 L206.54 354.51 L207.91 354.73 L209.28 354.94 L210.66 355.15 L212.03 355.35 L213.4 355.55 L214.78 355.73 L216.15 355.91 L217.52 356.08 L218.9 356.23 L220.27 356.38 L221.64 356.52 L223.02 356.65 L224.39 356.77 L225.76 356.88 L227.13 356.98 L228.51 357.07 L229.88 357.14 L231.25 357.22 L232.63 357.29 L234 357.36 L235.37 357.42 L236.74 357.48 L238.12 357.55 L239.49 357.61 L240.86 357.66 L242.24 357.72 L243.61 357.78 L244.98 357.84 L246.36 357.89 L247.73 357.95 L249.1 358.01 L250.48 358.07 L251.85 358.17 L253.22 358.31 L254.59 358.48 L255.97 358.71 L257.34 359 L257.34 370.53 L255.97 370.52 L254.59 370.51 L253.22 370.51 L251.85 370.53 L250.48 370.56 L249.1 370.59 L247.73 370.61 L246.36 370.64 L244.98 370.67 L243.61 370.71 L242.24 370.74 L240.86 370.77 L239.49 370.81 L238.12 370.84 L236.74 370.88 L235.37 370.91 L234 370.95 L232.63 370.98 L231.25 371.02 L229.88 371.06 L228.51 371.1 L227.13 371.14 L225.76 371.19 L224.39 371.24 L223.02 371.29 L221.64 371.35 L220.27 371.41 L218.9 371.47 L217.52 371.54 L216.15 371.6 L214.78 371.68 L213.4 371.75 L212.03 371.84 L210.66 371.94 L209.28 372.07 L207.91 372.2 L206.54 372.35 L205.17 372.51 L203.79 372.69 L202.42 372.9 L201.05 373.14 L199.67 373.41 L198.3 373.69 L196.93 374 L195.55 374.34 L194.18 374.73 L192.81 375.13 L191.44 375.53 L190.06 375.92 L188.69 376.29 L187.32 376.65 L185.94 377 L184.57 377.35 L183.2 377.69 L181.83 378.02 L180.45 378.34 L179.08 378.66 L177.71 378.97 L176.33 379.24 L174.96 379.47 L173.59 379.66 L172.21 379.83 L170.84 379.98 L169.47 380.09 L168.1 380.15 L166.72 380.16 L165.35 380.1 L163.98 379.96 L162.6 379.77 L161.23 379.53 L159.86 379.26 L158.48 378.94 L157.11 378.6 L155.74 378.24 L154.37 377.86 L152.99 377.48 L151.62 377.1 L150.25 376.73 L148.87 376.34 L147.5 375.94 L146.13 375.51 L144.75 375.08 L143.38 374.64 L142.01 374.19 L140.63 373.74 L139.26 373.28 L137.89 372.81 L136.52 372.35 L135.14 371.89 L133.77 371.41 L132.4 370.92 L131.02 370.42 L129.65 369.92 L128.28 369.43 L126.91 368.95 L125.53 368.48 L124.16 368.03 L122.79 367.6 L121.41 367.2 L120.04 366.84 L118.67 366.51 L117.29 366.2 L115.92 365.92 L114.55 365.65 L113.18 365.4 L111.8 365.16 L110.43 364.93 L109.06 364.7 L107.68 364.49 L106.31 364.28 L104.94 364.09 L103.56 363.9 L102.19 363.72 L100.82 363.54 L99.44 363.35 L98.07 363.17 L96.7 362.99 L95.33 362.82 L93.95 362.65 L92.58 362.5 L91.21 362.35 L89.83 362.22 L88.46 362.11 L87.09 362 L85.72 361.9 L84.34 361.79 L82.97 361.69 L81.6 361.6 L80.22 361.51 L78.85 361.42 L77.48 361.33 L76.1 361.25 L74.73 361.18 L73.36 361.11 L71.98 361.04 L70.61 360.98 L69.24 360.92 L67.87 360.87 L66.49 360.82 L65.12 360.78 L63.75 360.74 L62.37 360.71 L61 360.67 L59.63 360.64 L58.25 360.6 L56.88 360.57 L55.51 360.54 L54.14 360.51 L52.76 360.48 L51.39 360.45 L50.02 360.42 L48.64 360.4 L47.27 360.38 L45.9 360.36 L44.53 360.34 L43.15 360.33 L41.78 360.32 L40.41 360.31 L39.03 360.3 L37.66 360.3"/>
<path d="M37.66 358.3 L39.03 358.29 L40.41 358.28 L41.78 358.26 L43.15 358.24 L44.53 358.22 L45.9 358.2 L47.27 358.18 L48.64 358.15 L50.02 358.12 L51.39 358.1 L52.76 358.07 L54.14 358.04 L55.51 358 L56.88 357.97 L58.25 357.92 L59.63 357.88 L61 357.83 L62.37 357.78 L63.75 357.73 L65.12 357.68 L66.49 357.62 L67.87 357.56 L69.24 357.49 L70.61 357.42 L71.98 357.34 L73.36 357.26 L74.73 357.16 L76.1 357.05 L77.48 356.91 L78.85 356.76 L80.22 356.58 L81.6 356.38 L82.97 356.18 L84.34 355.97 L85.72 355.75 L87.09 355.54 L88.46 355.32 L89.83 355.09 L91.21 354.85 L92.58 354.61 L93.95 354.35 L95.33 354.07 L96.7 353.78 L98.07 353.48 L99.44 353.15 L100.82 352.78 L102.19 352.37 L103.56 351.93 L104.94 351.46 L106.31 350.96 L107.68 350.42 L109.06 349.85 L110.43 349.26 L111.8 348.65 L113.18 348 L114.55 347.33 L115.92 346.64 L117.29 345.94 L118.67 345.24 L120.04 344.52 L121.41 343.75 L122.79 342.89 L124.16 341.9 L125.53 340.83 L126.91 339.79 L128.28 338.76 L129.65 337.77 L131.02 336.83 L132.4 335.92 L133.77 335.07 L135.14 334.28 L136.52 333.52 L137.89 332.82 L139.26 332.17 L140.63 331.54 L142.01 330.99 L143.38 330.61 L144.75 330.32 L146.13 330.08 L147.5 329.9 L148.87 329.77 L150.25 329.66 L151.62 329.62 L152.99 329.69 L154.37 329.97 L155.74 330.42 L157.11 330.95 L158.48 331.51 L159.86 332.14 L161.23 332.81 L162.6 333.5 L163.98 334.19 L165.35 334.91 L166.72 335.68 L168.1 336.49 L169.47 337.31 L170.84 338.13 L172.21 338.94 L173.59 339.72 L174.96 340.45 L176.33 341.14 L177.71 341.81 L179.08 342.47 L180.45 343.11 L181.83 343.76 L183.2 344.42 L184.57 345.06 L185.94 345.66 L187.32 346.24 L188.69 346.82 L190.06 347.37 L191.44 347.91 L192.81 348.42 L194.18 348.9 L195.55 349.34 L196.93 349.75 L198.3 350.13 L199.67 350.49 L201.05 350.82 L202.42 351.14 L203.79 351.45 L205.17 351.75 L206.54 352.03 L207.91 352.31 L209.28 352.57 L210.66 352.82 L212.03 353.07 L213.4 353.31 L214.78 353.53 L216.15 353.74 L217.52 353.94 L218.9 354.13 L220.27 354.3 L221.64 354.46 L223.02 354.61 L224.39 354.74 L225.76 354.87 L227.13 354.99 L228.51 355.09 L229.88 355.19 L231.25 355.27 L232.63 355.36 L234 355.44 L235.37 355.51 L236.74 355.58 L238.12 355.65 L239.49 355.72 L240.86 355.79 L242.24 355.86 L243.61 355.94 L244.98 356.01 L246.36 356.09 L247.73 356.17 L249.1 356.27 L250.48 356.39 L251.85 356.6 L253.22 356.92 L254.59 357.32 L255.97 357.85 L257.34 358.56 L257.34 372.93 L255.97 372.87 L254.59 372.81 L253.22 372.77 L251.85 372.77 L250.48 372.79 L249.1 372.82 L247.73 372.84 L246.36 372.87 L244.98 372.89 L243.61 372.92 L242.24 372.95 L240.86 372.97 L239.49 373 L238.12 373.03 L236.74 373.06 L235.37 373.09 L234 373.12 L232.63 373.15 L231.25 373.19 L229.88 373.22 L228.51 373.25 L227.13 373.3 L225.76 373.35 L224.39 373.4 L223.02 373.46 L221.64 373.53 L220.27 373.6 L218.9 373.68 L217.52 373.77 L216.15 373.86 L214.78 373.95 L213.4 374.05 L212.03 374.18 L210.66 374.35 L209.28 374.56 L207.91 374.8 L206.54 375.06 L205.17 375.34 L203.79 375.68 L202.42 376.09 L201.05 376.55 L199.67 377.06 L198.3 377.61 L196.93 378.2 L195.55 378.89 L194.18 379.65 L192.81 380.46 L191.44 381.28 L190.06 382.05 L188.69 382.77 L187.32 383.49 L185.94 384.19 L184.57 384.87 L183.2 385.53 L181.83 386.15 L180.45 386.76 L179.08 387.35 L177.71 387.92 L176.33 388.4 L174.96 388.78 L173.59 389.09 L172.21 389.38 L170.84 389.63 L169.47 389.81 L168.1 389.92 L166.72 389.93 L165.35 389.82 L163.98 389.61 L162.6 389.33 L161.23 389.02 L159.86 388.67 L158.48 388.25 L157.11 387.8 L155.74 387.31 L154.37 386.79 L152.99 386.27 L151.62 385.74 L150.25 385.19 L148.87 384.62 L147.5 384.01 L146.13 383.38 L144.75 382.74 L143.38 382.09 L142.01 381.42 L140.63 380.74 L139.26 380.04 L137.89 379.34 L136.52 378.64 L135.14 377.94 L133.77 377.24 L132.4 376.53 L131.02 375.81 L129.65 375.09 L128.28 374.38 L126.91 373.67 L125.53 372.98 L124.16 372.29 L122.79 371.61 L121.41 370.96 L120.04 370.35 L118.67 369.77 L117.29 369.24 L115.92 368.74 L114.55 368.28 L113.18 367.84 L111.8 367.42 L110.43 367.02 L109.06 366.63 L107.68 366.25 L106.31 365.88 L104.94 365.53 L103.56 365.2 L102.19 364.89 L100.82 364.57 L99.44 364.24 L98.07 363.92 L96.7 363.6 L95.33 363.3 L93.95 363.02 L92.58 362.77 L91.21 362.54 L89.83 362.36 L88.46 362.21 L87.09 362.07 L85.72 361.95 L84.34 361.82 L82.97 361.71 L81.6 361.6 L80.22 361.5 L78.85 361.4 L77.48 361.31 L76.1 361.23 L74.73 361.15 L73.36 361.08 L71.98 361.01 L70.61 360.95 L69.24 360.89 L67.87 360.84 L66.49 360.79 L65.12 360.75 L63.75 360.72 L62.37 360.68 L61 360.65 L59.63 360.62 L58.25 360.58 L56.88 360.55 L55.51 360.52 L54.14 360.49 L52.76 360.46 L51.39 360.44 L50.02 360.41 L48.64 360.39 L47.27 360.37 L45.9 360.35 L44.53 360.34 L43.15 360.32 L41.78 360.31 L40.41 360.31 L39.03 360.3 L37.66 360.3"/>
<path d="M37.66 358.3 L39.03 358.29 L40.41 358.28 L41.78 358.26 L43.15 358.24 L44.53 358.22 L45.9 358.2 L47.27 358.18 L48.64 358.15 L50.02 358.12 L51.39 358.09 L52.76 358.06 L54.14 358.03 L55.51 358 L56.88 357.96 L58.25 357.91 L59.63 357.86 L61 357.8 L62.37 357.75 L63.75 357.69 L65.12 357.62 L66.49 357.56 L67.87 357.49 L69.24 357.41 L70.61 357.32 L71.98 357.23 L73.36 357.13 L74.73 357.01 L76.1 356.87 L77.48 356.7 L78.85 356.49 L80.22 356.26 L81.6 356.01 L82.97 355.74 L84.34 355.47 L85.72 355.19 L87.09 354.9 L88.46 354.62 L89.83 354.32 L91.21 354.01 L92.58 353.69 L93.95 353.35 L95.33 352.99 L96.7 352.61 L98.07 352.2 L99.44 351.77 L100.82 351.27 L102.19 350.72 L103.56 350.13 L104.94 349.5 L106.31 348.83 L107.68 348.1 L109.06 347.33 L110.43 346.54 L111.8 345.71 L113.18 344.85 L114.55 343.94 L115.92 343.02 L117.29 342.09 L118.67 341.15 L120.04 340.19 L121.41 339.17 L122.79 338.05 L124.16 336.77 L125.53 335.38 L126.91 334.05 L128.28 332.74 L129.65 331.49 L131.02 330.33 L132.4 329.22 L133.77 328.18 L135.14 327.22 L136.52 326.32 L137.89 325.49 L139.26 324.76 L140.63 324.06 L142.01 323.47 L143.38 323.13 L144.75 322.91 L146.13 322.74 L147.5 322.64 L148.87 322.62 L150.25 322.64 L151.62 322.74 L152.99 322.96 L154.37 323.41 L155.74 324.04 L157.11 324.75 L158.48 325.49 L159.86 326.3 L161.23 327.17 L162.6 328.05 L163.98 328.93 L165.35 329.84 L166.72 330.8 L168.1 331.79 L169.47 332.78 L170.84 333.76 L172.21 334.73 L173.59 335.66 L174.96 336.55 L176.33 337.39 L177.71 338.19 L179.08 338.98 L180.45 339.76 L181.83 340.54 L183.2 341.33 L184.57 342.09 L185.94 342.8 L187.32 343.5 L188.69 344.18 L190.06 344.84 L191.44 345.47 L192.81 346.07 L194.18 346.64 L195.55 347.17 L196.93 347.64 L198.3 348.09 L199.67 348.5 L201.05 348.89 L202.42 349.27 L203.79 349.62 L205.17 349.96 L206.54 350.29 L207.91 350.6 L209.28 350.9 L210.66 351.18 L212.03 351.46 L213.4 351.72 L214.78 351.98 L216.15 352.21 L217.52 352.44 L218.9 352.64 L220.27 352.83 L221.64 353 L223.02 353.16 L224.39 353.31 L225.76 353.45 L227.13 353.58 L228.51 353.7 L229.88 353.8 L231.25 353.9 L232.63 354 L234 354.08 L235.37 354.16 L236.74 354.24 L238.12 354.31 L239.49 354.39 L240.86 354.47 L242.24 354.55 L243.61 354.64 L244.98 354.72 L246.36 354.82 L247.73 354.92 L249.1 355.05 L250.48 355.2 L251.85 355.49 L253.22 355.94 L254.59 356.49 L255.97 357.25 L257.34 358.25 L257.34 374.58 L255.97 374.49 L254.59 374.39 L253.22 374.33 L251.85 374.31 L250.48 374.33 L249.1 374.35 L247.73 374.37 L246.36 374.4 L244.98 374.42 L243.61 374.44 L242.24 374.47 L240.86 374.49 L239.49 374.51 L238.12 374.54 L236.74 374.57 L235.37 374.59 L234 374.62 L232.63 374.65 L231.25 374.67 L229.88 374.7 L228.51 374.73 L227.13 374.78 L225.76 374.83 L224.39 374.89 L223.02 374.95 L221.64 375.03 L220.27 375.11 L218.9 375.2 L217.52 375.3 L216.15 375.41 L214.78 375.52 L213.4 375.63 L212.03 375.79 L210.66 376 L209.28 376.27 L207.91 376.58 L206.54 376.92 L205.17 377.29 L203.79 377.74 L202.42 378.28 L201.05 378.89 L199.67 379.58 L198.3 380.31 L196.93 381.09 L195.55 382.01 L194.18 383.04 L192.81 384.13 L191.44 385.22 L190.06 386.27 L188.69 387.23 L187.32 388.19 L185.94 389.14 L184.57 390.05 L183.2 390.93 L181.83 391.75 L180.45 392.54 L179.08 393.33 L177.71 394.07 L176.33 394.71 L174.96 395.19 L173.59 395.59 L172.21 395.95 L170.84 396.27 L169.47 396.5 L168.1 396.64 L166.72 396.65 L165.35 396.51 L163.98 396.25 L162.6 395.92 L161.23 395.55 L159.86 395.14 L158.48 394.66 L157.11 394.12 L155.74 393.55 L154.37 392.94 L152.99 392.32 L151.62 391.69 L150.25 391.02 L148.87 390.31 L147.5 389.57 L146.13 388.8 L144.75 388.01 L143.38 387.21 L142.01 386.4 L140.63 385.56 L139.26 384.7 L137.89 383.83 L136.52 382.97 L135.14 382.11 L133.77 381.25 L132.4 380.38 L131.02 379.52 L129.65 378.65 L128.28 377.78 L126.91 376.92 L125.53 376.07 L124.16 375.22 L122.79 374.38 L121.41 373.55 L120.04 372.76 L118.67 372.02 L117.29 371.32 L115.92 370.69 L114.55 370.09 L113.18 369.52 L111.8 368.98 L110.43 368.46 L109.06 367.95 L107.68 367.46 L106.31 366.99 L104.94 366.53 L103.56 366.1 L102.19 365.69 L100.82 365.28 L99.44 364.85 L98.07 364.44 L96.7 364.03 L95.33 363.64 L93.95 363.28 L92.58 362.95 L91.21 362.67 L89.83 362.45 L88.46 362.28 L87.09 362.12 L85.72 361.98 L84.34 361.84 L82.97 361.72 L81.6 361.6 L80.22 361.49 L78.85 361.39 L77.48 361.3 L76.1 361.21 L74.73 361.13 L73.36 361.06 L71.98 360.99 L70.61 360.92 L69.24 360.87 L67.87 360.81 L66.49 360.77 L65.12 360.73 L63.75 360.7 L62.37 360.67 L61 360.63 L59.63 360.6 L58.25 360.57 L56.88 360.54 L55.51 360.51 L54.14 360.48 L52.76 360.46 L51.39 360.43 L50.02 360.41 L48.64 360.39 L47.27 360.37 L45.9 360.35 L44.53 360.34 L43.15 360.32 L41.78 360.31 L40.41 360.31 L39.03 360.3 L37.66 360.3"/>
<path d="M37.66 358.3 L39.03 358.29 L40.41 358.28 L41.78 358.26 L43.15 358.25 L44.53 358.23 L45.9 358.2 L47.27 358.18 L48.64 358.15 L50.02 358.12 L51.39 358.09 L52.76 358.06 L54.14 358.03 L55.51 357.99 L56.88 357.95 L58.25 357.9 L59.63 357.84 L61 357.78 L62.37 357.72 L63.75 357.65 L65.12 357.59 L66.49 357.51 L67.87 357.43 L69.24 357.35 L70.61 357.25 L71.98 357.14 L73.36 357.03 L74.73 356.89 L76.1 356.74 L77.48 356.53 L78.85 356.29 L80.22 356.02 L81.6 355.73 L82.97 355.41 L84.34 355.08 L85.72 354.75 L87.09 354.42 L88.46 354.08 L89.83 353.73 L91.21 353.37 L92.58 352.99 L93.95 352.59 L95.33 352.16 L96.7 351.71 L98.07 351.23 L99.44 350.71 L100.82 350.12 L102.19 349.46 L103.56 348.74 L104.94 348 L106.31 347.19 L107.68 346.32 L109.06 345.4 L110.43 344.45 L111.8 343.46 L113.18 342.42 L114.55 341.35 L115.92 340.24 L117.29 339.13 L118.67 338.01 L120.04 336.87 L121.41 335.66 L122.79 334.34 L124.16 332.83 L125.53 331.2 L126.91 329.65 L128.28 328.12 L129.65 326.68 L131.02 325.34 L132.4 324.07 L133.77 322.89 L135.14 321.81 L136.52 320.79 L137.89 319.86 L139.26 319.07 L140.63 318.32 L142.01 317.71 L143.38 317.4 L144.75 317.22 L146.13 317.12 L147.5 317.08 L148.87 317.13 L150.25 317.26 L151.62 317.46 L152.99 317.79 L154.37 318.38 L155.74 319.15 L157.11 320 L158.48 320.88 L159.86 321.83 L161.23 322.84 L162.6 323.87 L163.98 324.9 L165.35 325.95 L166.72 327.06 L168.1 328.18 L169.47 329.31 L170.84 330.41 L172.21 331.5 L173.59 332.56 L174.96 333.56 L176.33 334.51 L177.71 335.42 L179.08 336.31 L180.45 337.18 L181.83 338.06 L183.2 338.95 L184.57 339.82 L185.94 340.61 L187.32 341.39 L188.69 342.16 L190.06 342.89 L191.44 343.6 L192.81 344.28 L194.18 344.91 L195.55 345.5 L196.93 346.03 L198.3 346.52 L199.67 346.98 L201.05 347.41 L202.42 347.83 L203.79 348.22 L205.17 348.59 L206.54 348.95 L207.91 349.29 L209.28 349.61 L210.66 349.92 L212.03 350.22 L213.4 350.51 L214.78 350.78 L216.15 351.04 L217.52 351.28 L218.9 351.5 L220.27 351.7 L221.64 351.89 L223.02 352.06 L224.39 352.22 L225.76 352.37 L227.13 352.5 L228.51 352.63 L229.88 352.74 L231.25 352.85 L232.63 352.95 L234 353.04 L235.37 353.13 L236.74 353.21 L238.12 353.29 L239.49 353.37 L240.86 353.45 L242.24 353.54 L243.61 353.64 L244.98 353.74 L246.36 353.84 L247.73 353.96 L249.1 354.11 L250.48 354.29 L251.85 354.64 L253.22 355.19 L254.59 355.86 L255.97 356.79 L257.34 358.01 L257.34 375.91 L255.97 375.79 L254.59 375.66 L253.22 375.58 L251.85 375.55 L250.48 375.57 L249.1 375.59 L247.73 375.61 L246.36 375.63 L244.98 375.65 L243.61 375.67 L242.24 375.69 L240.86 375.71 L239.49 375.73 L238.12 375.75 L236.74 375.78 L235.37 375.8 L234 375.82 L232.63 375.85 L231.25 375.87 L229.88 375.9 L228.51 375.93 L227.13 375.97 L225.76 376.02 L224.39 376.08 L223.02 376.15 L221.64 376.24 L220.27 376.33 L218.9 376.43 L217.52 376.53 L216.15 376.65 L214.78 376.77 L213.4 376.9 L212.03 377.08 L210.66 377.33 L209.28 377.65 L207.91 378.01 L206.54 378.42 L205.17 378.86 L203.79 379.39 L202.42 380.04 L201.05 380.78 L199.67 381.6 L198.3 382.48 L196.93 383.42 L195.55 384.52 L194.18 385.77 L192.81 387.08 L191.44 388.4 L190.06 389.66 L188.69 390.82 L187.32 391.98 L185.94 393.11 L184.57 394.22 L183.2 395.27 L181.83 396.25 L180.45 397.2 L179.08 398.14 L177.71 399.02 L176.33 399.77 L174.96 400.35 L173.59 400.81 L172.21 401.24 L170.84 401.6 L169.47 401.88 L168.1 402.04 L166.72 402.05 L165.35 401.89 L163.98 401.59 L162.6 401.21 L161.23 400.8 L159.86 400.34 L158.48 399.81 L157.11 399.21 L155.74 398.56 L154.37 397.88 L152.99 397.18 L151.62 396.47 L150.25 395.71 L148.87 394.89 L147.5 394.04 L146.13 393.15 L144.75 392.24 L143.38 391.33 L142.01 390.39 L140.63 389.43 L139.26 388.44 L137.89 387.45 L136.52 386.45 L135.14 385.46 L133.77 384.48 L132.4 383.49 L131.02 382.5 L129.65 381.51 L128.28 380.52 L126.91 379.54 L125.53 378.56 L124.16 377.58 L122.79 376.6 L121.41 375.63 L120.04 374.7 L118.67 373.82 L117.29 373 L115.92 372.25 L114.55 371.54 L113.18 370.87 L111.8 370.23 L110.43 369.61 L109.06 369.02 L107.68 368.44 L106.31 367.87 L104.94 367.33 L103.56 366.82 L102.19 366.34 L100.82 365.85 L99.44 365.35 L98.07 364.85 L96.7 364.37 L95.33 363.91 L93.95 363.48 L92.58 363.1 L91.21 362.78 L89.83 362.52 L88.46 362.33 L87.09 362.16 L85.72 362.01 L84.34 361.86 L82.97 361.73 L81.6 361.6 L80.22 361.49 L78.85 361.38 L77.48 361.29 L76.1 361.2 L74.73 361.12 L73.36 361.04 L71.98 360.97 L70.61 360.91 L69.24 360.85 L67.87 360.8 L66.49 360.75 L65.12 360.72 L63.75 360.68 L62.37 360.65 L61 360.62 L59.63 360.59 L58.25 360.56 L56.88 360.53 L55.51 360.5 L54.14 360.48 L52.76 360.45 L51.39 360.43 L50.02 360.4 L48.64 360.38 L47.27 360.36 L45.9 360.35 L44.53 360.33 L43.15 360.32 L41.78 360.31 L40.41 360.31 L39.03 360.3 L37.66 360.3"/>
<path d="M37.66 358.3 L39.03 358.29 L40.41 358.28 L41.78 358.27 L43.15 358.25 L44.53 358.23 L45.9 358.2 L47.27 358.18 L48.64 358.15 L50.02 358.12 L51.39 358.09 L52.76 358.06 L54.14 358.02 L55.51 357.98 L56.88 357.93 L58.25 357.88 L59.63 357.81 L61 357.75 L62.37 357.67 L63.75 357.6 L65.12 357.51 L66.49 357.43 L67.87 357.34 L69.24 357.23 L70.61 357.12 L71.98 356.99 L73.36 356.85 L74.73 356.69 L76.1 356.49 L77.48 356.24 L78.85 355.94 L80.22 355.59 L81.6 355.22 L82.97 354.82 L84.34 354.4 L85.72 353.98 L87.09 353.55 L88.46 353.13 L89.83 352.68 L91.21 352.22 L92.58 351.74 L93.95 351.22 L95.33 350.68 L96.7 350.1 L98.07 349.48 L99.44 348.82 L100.82 348.05 L102.19 347.2 L103.56 346.28 L104.94 345.32 L106.31 344.27 L107.68 343.14 L109.06 341.95 L110.43 340.72 L111.8 339.44 L113.18 338.1 L114.55 336.71 L115.92 335.28 L117.29 333.85 L118.67 332.41 L120.04 330.95 L121.41 329.4 L122.79 327.72 L124.16 325.81 L125.53 323.74 L126.91 321.79 L128.28 319.88 L129.65 318.1 L131.02 316.45 L132.4 314.89 L133.77 313.46 L135.14 312.16 L136.52 310.93 L137.89 309.83 L139.26 308.93 L140.63 308.07 L142.01 307.42 L143.38 307.16 L144.75 307.08 L146.13 307.07 L147.5 307.14 L148.87 307.35 L150.25 307.65 L151.62 308.03 L152.99 308.58 L154.37 309.39 L155.74 310.41 L157.11 311.51 L158.48 312.63 L159.86 313.84 L161.23 315.11 L162.6 316.41 L163.98 317.7 L165.35 319.02 L166.72 320.37 L168.1 321.75 L169.47 323.1 L170.84 324.43 L172.21 325.74 L173.59 327.01 L174.96 328.22 L176.33 329.37 L177.71 330.47 L179.08 331.53 L180.45 332.58 L181.83 333.64 L183.2 334.71 L184.57 335.75 L185.94 336.71 L187.32 337.63 L188.69 338.54 L190.06 339.42 L191.44 340.27 L192.81 341.07 L194.18 341.82 L195.55 342.52 L196.93 343.14 L198.3 343.72 L199.67 344.26 L201.05 344.77 L202.42 345.25 L203.79 345.71 L205.17 346.15 L206.54 346.56 L207.91 346.95 L209.28 347.32 L210.66 347.68 L212.03 348.02 L213.4 348.35 L214.78 348.66 L216.15 348.95 L217.52 349.22 L218.9 349.47 L220.27 349.69 L221.64 349.9 L223.02 350.09 L224.39 350.26 L225.76 350.43 L227.13 350.58 L228.51 350.72 L229.88 350.85 L231.25 350.97 L232.63 351.09 L234 351.19 L235.37 351.28 L236.74 351.37 L238.12 351.46 L239.49 351.55 L240.86 351.64 L242.24 351.74 L243.61 351.86 L244.98 351.98 L246.36 352.1 L247.73 352.25 L249.1 352.43 L250.48 352.67 L251.85 353.12 L253.22 353.84 L254.59 354.74 L255.97 355.97 L257.34 357.59 L257.34 378.35 L255.97 378.18 L254.59 378.01 L253.22 377.88 L251.85 377.84 L250.48 377.85 L249.1 377.87 L247.73 377.88 L246.36 377.9 L244.98 377.91 L243.61 377.93 L242.24 377.94 L240.86 377.96 L239.49 377.97 L238.12 377.99 L236.74 378.01 L235.37 378.03 L234 378.04 L232.63 378.06 L231.25 378.08 L229.88 378.1 L228.51 378.12 L227.13 378.17 L225.76 378.22 L224.39 378.29 L223.02 378.37 L221.64 378.46 L220.27 378.57 L218.9 378.69 L217.52 378.81 L216.15 378.95 L214.78 379.1 L213.4 379.25 L212.03 379.47 L210.66 379.79 L209.28 380.19 L207.91 380.66 L206.54 381.19 L205.17 381.76 L203.79 382.44 L202.42 383.29 L201.05 384.26 L199.67 385.33 L198.3 386.49 L196.93 387.71 L195.55 389.16 L194.18 390.8 L192.81 392.53 L191.44 394.26 L190.06 395.91 L188.69 397.44 L187.32 398.96 L185.94 400.46 L184.57 401.9 L183.2 403.28 L181.83 404.56 L180.45 405.79 L179.08 407.01 L177.71 408.15 L176.33 409.13 L174.96 409.86 L173.59 410.44 L172.21 410.99 L170.84 411.46 L169.47 411.81 L168.1 412.01 L166.72 412.02 L165.35 411.81 L163.98 411.45 L162.6 410.98 L161.23 410.49 L159.86 409.95 L158.48 409.31 L157.11 408.6 L155.74 407.83 L154.37 407.01 L152.99 406.16 L151.62 405.29 L150.25 404.35 L148.87 403.35 L147.5 402.29 L146.13 401.18 L144.75 400.06 L143.38 398.93 L142.01 397.77 L140.63 396.58 L139.26 395.35 L137.89 394.12 L136.52 392.88 L135.14 391.65 L133.77 390.43 L132.4 389.22 L131.02 388 L129.65 386.78 L128.28 385.57 L126.91 384.36 L125.53 383.15 L124.16 381.93 L122.79 380.7 L121.41 379.47 L120.04 378.28 L118.67 377.16 L117.29 376.1 L115.92 375.14 L114.55 374.23 L113.18 373.36 L111.8 372.54 L110.43 371.75 L109.06 370.98 L107.68 370.23 L106.31 369.51 L104.94 368.81 L103.56 368.16 L102.19 367.54 L100.82 366.9 L99.44 366.26 L98.07 365.62 L96.7 364.99 L95.33 364.4 L93.95 363.86 L92.58 363.38 L91.21 362.97 L89.83 362.66 L88.46 362.43 L87.09 362.24 L85.72 362.06 L84.34 361.89 L82.97 361.74 L81.6 361.6 L80.22 361.48 L78.85 361.37 L77.48 361.27 L76.1 361.18 L74.73 361.09 L73.36 361.01 L71.98 360.94 L70.61 360.88 L69.24 360.82 L67.87 360.77 L66.49 360.72 L65.12 360.69 L63.75 360.66 L62.37 360.63 L61 360.6 L59.63 360.57 L58.25 360.54 L56.88 360.51 L55.51 360.49 L54.14 360.46 L52.76 360.44 L51.39 360.42 L50.02 360.4 L48.64 360.38 L47.27 360.36 L45.9 360.34 L44.53 360.33 L43.15 360.32 L41.78 360.31 L40.41 360.31 L39.03 360.3 L37.66 360.3"/>
<path d="M37.66 358.3 L39.03 358.29 L40.41 358.28 L41.78 358.27 L43.15 358.25 L44.53 358.23 L45.9 358.21 L47.27 358.18 L48.64 358.15 L50.02 358.12 L51.39 358.09 L52.76 358.05 L54.14 358.01 L55.51 357.97 L56.88 357.92 L58.25 357.86 L59.63 357.79 L61 357.71 L62.37 357.63 L63.75 357.54 L65.12 357.45 L66.49 357.35 L67.87 357.24 L69.24 357.13 L70.61 356.99 L71.98 356.85 L73.36 356.68 L74.73 356.49 L76.1 356.26 L77.48 355.96 L78.85 355.6 L80.22 355.19 L81.6 354.74 L82.97 354.25 L84.34 353.75 L85.72 353.24 L87.09 352.74 L88.46 352.23 L89.83 351.69 L91.21 351.14 L92.58 350.55 L93.95 349.94 L95.33 349.28 L96.7 348.58 L98.07 347.84 L99.44 347.03 L100.82 346.11 L102.19 345.07 L103.56 343.96 L104.94 342.78 L106.31 341.52 L107.68 340.15 L109.06 338.7 L110.43 337.21 L111.8 335.65 L113.18 334.02 L114.55 332.33 L115.92 330.61 L117.29 328.87 L118.67 327.13 L120.04 325.36 L121.41 323.49 L122.79 321.48 L124.16 319.18 L125.53 316.71 L126.91 314.37 L128.28 312.11 L129.65 309.99 L131.02 308.06 L132.4 306.23 L133.77 304.56 L135.14 303.05 L136.52 301.62 L137.89 300.37 L139.26 299.35 L140.63 298.41 L142.01 297.71 L143.38 297.5 L144.75 297.5 L146.13 297.59 L147.5 297.77 L148.87 298.12 L150.25 298.58 L151.62 299.14 L152.99 299.88 L154.37 300.92 L155.74 302.17 L157.11 303.51 L158.48 304.86 L159.86 306.3 L161.23 307.82 L162.6 309.37 L163.98 310.91 L165.35 312.47 L166.72 314.07 L168.1 315.67 L169.47 317.25 L170.84 318.78 L172.21 320.3 L173.59 321.77 L174.96 323.19 L176.33 324.52 L177.71 325.8 L179.08 327.03 L180.45 328.25 L181.83 329.47 L183.2 330.71 L184.57 331.92 L185.94 333.02 L187.32 334.09 L188.69 335.14 L190.06 336.15 L191.44 337.13 L192.81 338.05 L194.18 338.91 L195.55 339.7 L196.93 340.42 L198.3 341.08 L199.67 341.7 L201.05 342.28 L202.42 342.83 L203.79 343.35 L205.17 343.84 L206.54 344.3 L207.91 344.74 L209.28 345.16 L210.66 345.56 L212.03 345.94 L213.4 346.31 L214.78 346.65 L216.15 346.98 L217.52 347.28 L218.9 347.55 L220.27 347.79 L221.64 348.02 L223.02 348.23 L224.39 348.42 L225.76 348.6 L227.13 348.77 L228.51 348.92 L229.88 349.07 L231.25 349.2 L232.63 349.33 L234 349.44 L235.37 349.54 L236.74 349.64 L238.12 349.73 L239.49 349.83 L240.86 349.93 L242.24 350.05 L243.61 350.18 L244.98 350.31 L246.36 350.46 L247.73 350.63 L249.1 350.85 L250.48 351.14 L251.85 351.69 L253.22 352.57 L254.59 353.67 L255.97 355.19 L257.34 357.19 L257.34 380 L255.97 379.8 L254.59 379.59 L253.22 379.44 L251.85 379.38 L250.48 379.39 L249.1 379.4 L247.73 379.41 L246.36 379.42 L244.98 379.44 L243.61 379.45 L242.24 379.46 L240.86 379.47 L239.49 379.49 L238.12 379.5 L236.74 379.51 L235.37 379.53 L234 379.54 L232.63 379.55 L231.25 379.57 L229.88 379.58 L228.51 379.61 L227.13 379.65 L225.76 379.7 L224.39 379.77 L223.02 379.86 L221.64 379.96 L220.27 380.08 L218.9 380.21 L217.52 380.35 L216.15 380.5 L214.78 380.66 L213.4 380.84 L212.03 381.08 L210.66 381.44 L209.28 381.9 L207.91 382.45 L206.54 383.05 L205.17 383.71 L203.79 384.5 L202.42 385.48 L201.05 386.6 L199.67 387.85 L198.3 389.18 L196.93 390.6 L195.55 392.28 L194.18 394.18 L192.81 396.2 L191.44 398.21 L190.06 400.13 L188.69 401.9 L187.32 403.67 L185.94 405.4 L184.57 407.08 L183.2 408.68 L181.83 410.16 L180.45 411.58 L179.08 412.99 L177.71 414.3 L176.33 415.43 L174.96 416.27 L173.59 416.94 L172.21 417.56 L170.84 418.1 L169.47 418.5 L168.1 418.73 L166.72 418.74 L165.35 418.5 L163.98 418.08 L162.6 417.57 L161.23 417.02 L159.86 416.42 L158.48 415.72 L157.11 414.93 L155.74 414.07 L154.37 413.16 L152.99 412.21 L151.62 411.24 L150.25 410.18 L148.87 409.04 L147.5 407.84 L146.13 406.6 L144.75 405.33 L143.38 404.05 L142.01 402.75 L140.63 401.39 L139.26 400.01 L137.89 398.61 L136.52 397.21 L135.14 395.82 L133.77 394.45 L132.4 393.08 L131.02 391.71 L129.65 390.34 L128.28 388.97 L126.91 387.61 L125.53 386.25 L124.16 384.86 L122.79 383.46 L121.41 382.06 L120.04 380.7 L118.67 379.4 L117.29 378.19 L115.92 377.08 L114.55 376.04 L113.18 375.04 L111.8 374.1 L110.43 373.19 L109.06 372.3 L107.68 371.44 L106.31 370.61 L104.94 369.81 L103.56 369.06 L102.19 368.34 L100.82 367.61 L99.44 366.87 L98.07 366.13 L96.7 365.41 L95.33 364.74 L93.95 364.11 L92.58 363.56 L91.21 363.1 L89.83 362.75 L88.46 362.5 L87.09 362.29 L85.72 362.09 L84.34 361.91 L82.97 361.75 L81.6 361.61 L80.22 361.47 L78.85 361.36 L77.48 361.25 L76.1 361.16 L74.73 361.07 L73.36 361 L71.98 360.92 L70.61 360.86 L69.24 360.8 L67.87 360.75 L66.49 360.7 L65.12 360.67 L63.75 360.64 L62.37 360.61 L61 360.58 L59.63 360.55 L58.25 360.53 L56.88 360.5 L55.51 360.47 L54.14 360.45 L52.76 360.43 L51.39 360.41 L50.02 360.39 L48.64 360.37 L47.27 360.36 L45.9 360.34 L44.53 360.33 L43.15 360.32 L41.78 360.31 L40.41 360.3 L39.03 360.3 L37.66 360.3"/>
<path d="M37.66 358.3 L39.03 358.29 L40.41 358.28 L41.78 358.27 L43.15 358.25 L44.53 358.23 L45.9 358.21 L47.27 358.18 L48.64 358.15 L50.02 358.12 L51.39 358.08 L52.76 358.05 L54.14 358.01 L55.51 357.97 L56.88 357.91 L58.25 357.85 L59.63 357.78 L61 357.7 L62.37 357.61 L63.75 357.52 L65.12 357.42 L66.49 357.32 L67.87 357.21 L69.24 357.08 L70.61 356.94 L71.98 356.78 L73.36 356.61 L74.73 356.41 L76.1 356.16 L77.48 355.84 L78.85 355.46 L80.22 355.01 L81.6 354.53 L82.97 354.01 L84.34 353.48 L85.72 352.93 L87.09 352.39 L88.46 351.84 L89.83 351.27 L91.21 350.67 L92.58 350.05 L93.95 349.38 L95.33 348.68 L96.7 347.93 L98.07 347.13 L99.44 346.27 L100.82 345.27 L102.19 344.16 L103.56 342.96 L104.94 341.7 L106.31 340.34 L107.68 338.86 L109.06 337.31 L110.43 335.7 L111.8 334.03 L113.18 332.28 L114.55 330.46 L115.92 328.6 L117.29 326.73 L118.67 324.87 L120.04 322.96 L121.41 320.96 L122.79 318.8 L124.16 316.34 L125.53 313.69 L126.91 311.2 L128.28 308.77 L129.65 306.52 L131.02 304.46 L132.4 302.52 L133.77 300.75 L135.14 299.15 L136.52 297.64 L137.89 296.31 L139.26 295.25 L140.63 294.27 L142.01 293.55 L143.38 293.36 L144.75 293.4 L146.13 293.53 L147.5 293.76 L148.87 294.16 L150.25 294.69 L151.62 295.34 L152.99 296.16 L154.37 297.29 L155.74 298.64 L157.11 300.08 L158.48 301.52 L159.86 303.07 L161.23 304.7 L162.6 306.36 L163.98 308 L165.35 309.67 L166.72 311.37 L168.1 313.07 L169.47 314.74 L170.84 316.36 L172.21 317.97 L173.59 319.53 L174.96 321.03 L176.33 322.45 L177.71 323.8 L179.08 325.1 L180.45 326.39 L181.83 327.68 L183.2 329 L184.57 330.28 L185.94 331.44 L187.32 332.57 L188.69 333.68 L190.06 334.75 L191.44 335.78 L192.81 336.75 L194.18 337.66 L195.55 338.5 L196.93 339.25 L198.3 339.95 L199.67 340.6 L201.05 341.21 L202.42 341.79 L203.79 342.34 L205.17 342.85 L206.54 343.34 L207.91 343.79 L209.28 344.23 L210.66 344.65 L212.03 345.05 L213.4 345.43 L214.78 345.79 L216.15 346.13 L217.52 346.44 L218.9 346.73 L220.27 346.98 L221.64 347.21 L223.02 347.43 L224.39 347.63 L225.76 347.82 L227.13 347.99 L228.51 348.15 L229.88 348.3 L231.25 348.44 L232.63 348.58 L234 348.69 L235.37 348.8 L236.74 348.9 L238.12 348.99 L239.49 349.09 L240.86 349.2 L242.24 349.32 L243.61 349.46 L244.98 349.6 L246.36 349.76 L247.73 349.94 L249.1 350.18 L250.48 350.48 L251.85 351.07 L253.22 352.03 L254.59 353.22 L255.97 354.86 L257.34 357.02 L257.34 381.67 L255.97 381.43 L254.59 381.19 L253.22 381.01 L251.85 380.94 L250.48 380.95 L249.1 380.95 L247.73 380.96 L246.36 380.97 L244.98 380.98 L243.61 380.99 L242.24 380.99 L240.86 381 L239.49 381.01 L238.12 381.02 L236.74 381.03 L235.37 381.04 L234 381.05 L232.63 381.06 L231.25 381.07 L229.88 381.08 L228.51 381.1 L227.13 381.14 L225.76 381.2 L224.39 381.28 L223.02 381.37 L221.64 381.48 L220.27 381.6 L218.9 381.74 L217.52 381.9 L216.15 382.06 L214.78 382.24 L213.4 382.44 L212.03 382.71 L210.66 383.11 L209.28 383.64 L207.91 384.25 L206.54 384.94 L205.17 385.67 L203.79 386.58 L202.42 387.69 L201.05 388.97 L199.67 390.39 L198.3 391.91 L196.93 393.53 L195.55 395.44 L194.18 397.61 L192.81 399.9 L191.44 402.2 L190.06 404.39 L188.69 406.41 L187.32 408.42 L185.94 410.4 L184.57 412.31 L183.2 414.13 L181.83 415.81 L180.45 417.43 L179.08 419.03 L177.71 420.52 L176.33 421.79 L174.96 422.74 L173.59 423.5 L172.21 424.2 L170.84 424.81 L169.47 425.26 L168.1 425.52 L166.72 425.53 L165.35 425.26 L163.98 424.79 L162.6 424.22 L161.23 423.62 L159.86 422.96 L158.48 422.19 L157.11 421.32 L155.74 420.37 L154.37 419.37 L152.99 418.32 L151.62 417.24 L150.25 416.07 L148.87 414.8 L147.5 413.46 L146.13 412.07 L144.75 410.65 L143.38 409.23 L142.01 407.77 L140.63 406.26 L139.26 404.71 L137.89 403.15 L136.52 401.58 L135.14 400.03 L133.77 398.5 L132.4 396.97 L131.02 395.45 L129.65 393.93 L128.28 392.41 L126.91 390.89 L125.53 389.37 L124.16 387.83 L122.79 386.25 L121.41 384.67 L120.04 383.14 L118.67 381.67 L117.29 380.3 L115.92 379.04 L114.55 377.86 L113.18 376.74 L111.8 375.67 L110.43 374.64 L109.06 373.64 L107.68 372.67 L106.31 371.72 L104.94 370.82 L103.56 369.96 L102.19 369.16 L100.82 368.33 L99.44 367.49 L98.07 366.65 L96.7 365.84 L95.33 365.07 L93.95 364.37 L92.58 363.75 L91.21 363.24 L89.83 362.84 L88.46 362.57 L87.09 362.34 L85.72 362.13 L84.34 361.93 L82.97 361.76 L81.6 361.61 L80.22 361.47 L78.85 361.34 L77.48 361.24 L76.1 361.14 L74.73 361.06 L73.36 360.98 L71.98 360.9 L70.61 360.84 L69.24 360.78 L67.87 360.73 L66.49 360.68 L65.12 360.65 L63.75 360.62 L62.37 360.59 L61 360.56 L59.63 360.54 L58.25 360.51 L56.88 360.49 L55.51 360.46 L54.14 360.44 L52.76 360.42 L51.39 360.4 L50.02 360.38 L48.64 360.37 L47.27 360.35 L45.9 360.34 L44.53 360.33 L43.15 360.32 L41.78 360.31 L40.41 360.3 L39.03 360.3 L37.66 360.3"/>
<path d="M37.66 358.3 L39.03 358.3 L40.41 358.29 L41.78 358.27 L43.15 358.26 L44.53 358.23 L45.9 358.21 L47.27 358.18 L48.64 358.15 L50.02 358.12 L51.39 358.08 L52.76 358.04 L54.14 358.01 L55.51 357.96 L56.88 357.9 L58.25 357.83 L59.63 357.75 L61 357.66 L62.37 357.57 L63.75 357.46 L65.12 357.36 L66.49 357.24 L67.87 357.12 L69.24 356.98 L70.61 356.82 L71.98 356.64 L73.36 356.45 L74.73 356.22 L76.1 355.94 L77.48 355.58 L78.85 355.13 L80.22 354.63 L81.6 354.07 L82.97 353.48 L84.34 352.86 L85.72 352.23 L87.09 351.61 L88.46 350.98 L89.83 350.32 L91.21 349.64 L92.58 348.92 L93.95 348.16 L95.33 347.35 L96.7 346.48 L98.07 345.56 L99.44 344.56 L100.82 343.41 L102.19 342.13 L103.56 340.74 L104.94 339.28 L106.31 337.71 L107.68 336 L109.06 334.2 L110.43 332.34 L111.8 330.41 L113.18 328.38 L114.55 326.28 L115.92 324.14 L117.29 321.98 L118.67 319.82 L120.04 317.63 L121.41 315.32 L122.79 312.84 L124.16 310.01 L125.53 306.97 L126.91 304.12 L128.28 301.35 L129.65 298.79 L131.02 296.45 L132.4 294.25 L133.77 292.25 L135.14 290.45 L136.52 288.75 L137.89 287.27 L139.26 286.11 L140.63 285.04 L142.01 284.28 L143.38 284.13 L144.75 284.26 L146.13 284.48 L147.5 284.81 L148.87 285.34 L150.25 286.04 L151.62 286.85 L152.99 287.85 L154.37 289.2 L155.74 290.77 L157.11 292.44 L158.48 294.1 L159.86 295.87 L161.23 297.74 L162.6 299.64 L163.98 301.52 L165.35 303.42 L166.72 305.35 L168.1 307.27 L169.47 309.15 L170.84 310.98 L172.21 312.78 L173.59 314.53 L174.96 316.22 L176.33 317.82 L177.71 319.34 L179.08 320.81 L180.45 322.25 L181.83 323.7 L183.2 325.18 L184.57 326.62 L185.94 327.92 L187.32 329.18 L188.69 330.42 L190.06 331.62 L191.44 332.78 L192.81 333.87 L194.18 334.88 L195.55 335.82 L196.93 336.65 L198.3 337.42 L199.67 338.15 L201.05 338.83 L202.42 339.47 L203.79 340.08 L205.17 340.65 L206.54 341.18 L207.91 341.69 L209.28 342.16 L210.66 342.62 L212.03 343.06 L213.4 343.48 L214.78 343.88 L216.15 344.25 L217.52 344.59 L218.9 344.89 L220.27 345.17 L221.64 345.42 L223.02 345.65 L224.39 345.87 L225.76 346.07 L227.13 346.26 L228.51 346.43 L229.88 346.6 L231.25 346.75 L232.63 346.9 L234 347.02 L235.37 347.14 L236.74 347.24 L238.12 347.35 L239.49 347.45 L240.86 347.57 L242.24 347.7 L243.61 347.85 L244.98 348.01 L246.36 348.19 L247.73 348.4 L249.1 348.67 L250.48 349.02 L251.85 349.71 L253.22 350.82 L254.59 352.2 L255.97 354.12 L257.34 356.64 L257.34 383.73 L255.97 383.44 L254.59 383.16 L253.22 382.95 L251.85 382.86 L250.48 382.87 L249.1 382.87 L247.73 382.87 L246.36 382.88 L244.98 382.88 L243.61 382.89 L242.24 382.89 L240.86 382.89 L239.49 382.9 L238.12 382.9 L236.74 382.91 L235.37 382.91 L234 382.92 L232.63 382.92 L231.25 382.93 L229.88 382.93 L228.51 382.95 L227.13 382.99 L225.76 383.05 L224.39 383.13 L223.02 383.23 L221.64 383.35 L220.27 383.49 L218.9 383.64 L217.52 383.81 L216.15 384 L214.78 384.2 L213.4 384.41 L212.03 384.72 L210.66 385.18 L209.28 385.77 L207.91 386.47 L206.54 387.26 L205.17 388.11 L203.79 389.14 L202.42 390.42 L201.05 391.9 L199.67 393.53 L198.3 395.28 L196.93 397.13 L195.55 399.34 L194.18 401.83 L192.81 404.48 L191.44 407.13 L190.06 409.64 L188.69 411.97 L187.32 414.29 L185.94 416.57 L184.57 418.77 L183.2 420.86 L181.83 422.79 L180.45 424.65 L179.08 426.49 L177.71 428.2 L176.33 429.65 L174.96 430.74 L173.59 431.59 L172.21 432.4 L170.84 433.09 L169.47 433.61 L168.1 433.9 L166.72 433.91 L165.35 433.6 L163.98 433.07 L162.6 432.43 L161.23 431.76 L159.86 431.03 L158.48 430.18 L157.11 429.21 L155.74 428.16 L154.37 427.04 L152.99 425.87 L151.62 424.66 L150.25 423.33 L148.87 421.9 L147.5 420.39 L146.13 418.82 L144.75 417.22 L143.38 415.62 L142.01 413.97 L140.63 412.27 L139.26 410.52 L137.89 408.75 L136.52 406.98 L135.14 405.23 L133.77 403.5 L132.4 401.79 L131.02 400.08 L129.65 398.36 L128.28 396.65 L126.91 394.94 L125.53 393.23 L124.16 391.48 L122.79 389.69 L121.41 387.9 L120.04 386.15 L118.67 384.47 L117.29 382.9 L115.92 381.47 L114.55 380.12 L113.18 378.84 L111.8 377.61 L110.43 376.43 L109.06 375.29 L107.68 374.18 L106.31 373.09 L104.94 372.06 L103.56 371.09 L102.19 370.16 L100.82 369.22 L99.44 368.25 L98.07 367.29 L96.7 366.37 L95.33 365.49 L93.95 364.69 L92.58 363.98 L91.21 363.4 L89.83 362.96 L88.46 362.66 L87.09 362.4 L85.72 362.17 L84.34 361.96 L82.97 361.77 L81.6 361.61 L80.22 361.46 L78.85 361.33 L77.48 361.22 L76.1 361.12 L74.73 361.03 L73.36 360.95 L71.98 360.88 L70.61 360.81 L69.24 360.75 L67.87 360.7 L66.49 360.66 L65.12 360.62 L63.75 360.6 L62.37 360.57 L61 360.54 L59.63 360.52 L58.25 360.5 L56.88 360.47 L55.51 360.45 L54.14 360.43 L52.76 360.41 L51.39 360.39 L50.02 360.38 L48.64 360.36 L47.27 360.35 L45.9 360.33 L44.53 360.32 L43.15 360.32 L41.78 360.31 L40.41 360.3 L39.03 360.3 L37.66 360.3"/>
<path d="M37.66 358.3 L39.03 358.3 L40.41 358.29 L41.78 358.28 L43.15 358.26 L44.53 358.24 L45.9 358.21 L47.27 358.18 L48.64 358.15 L50.02 358.12 L51.39 358.08 L52.76 358.04 L54.14 358 L55.51 357.95 L56.88 357.89 L58.25 357.81 L59.63 357.73 L61 357.63 L62.37 357.53 L63.75 357.42 L65.12 357.3 L66.49 357.18 L67.87 357.04 L69.24 356.89 L70.61 356.72 L71.98 356.52 L73.36 356.3 L74.73 356.05 L76.1 355.75 L77.48 355.34 L78.85 354.85 L80.22 354.28 L81.6 353.66 L82.97 353 L84.34 352.31 L85.72 351.61 L87.09 350.92 L88.46 350.21 L89.83 349.48 L91.21 348.72 L92.58 347.91 L93.95 347.06 L95.33 346.16 L96.7 345.19 L98.07 344.16 L99.44 343.05 L100.82 341.76 L102.19 340.32 L103.56 338.77 L104.94 337.13 L106.31 335.37 L107.68 333.46 L109.06 331.44 L110.43 329.35 L111.8 327.19 L113.18 324.92 L114.55 322.57 L115.92 320.16 L117.29 317.75 L118.67 315.34 L120.04 312.88 L121.41 310.3 L122.79 307.53 L124.16 304.38 L125.53 300.99 L126.91 297.82 L128.28 294.75 L129.65 291.91 L131.02 289.32 L132.4 286.89 L133.77 284.69 L135.14 282.71 L136.52 280.85 L137.89 279.23 L139.26 277.98 L140.63 276.83 L142.01 276.03 L143.38 275.93 L144.75 276.12 L146.13 276.43 L147.5 276.85 L148.87 277.5 L150.25 278.33 L151.62 279.3 L152.99 280.46 L154.37 282 L155.74 283.77 L157.11 285.64 L158.48 287.49 L159.86 289.47 L161.23 291.54 L162.6 293.66 L163.98 295.75 L165.35 297.86 L166.72 299.99 L168.1 302.11 L169.47 304.18 L170.84 306.18 L172.21 308.16 L173.59 310.09 L174.96 311.94 L176.33 313.7 L177.71 315.37 L179.08 316.98 L180.45 318.57 L181.83 320.16 L183.2 321.79 L184.57 323.36 L185.94 324.78 L187.32 326.17 L188.69 327.53 L190.06 328.84 L191.44 330.1 L192.81 331.3 L194.18 332.41 L195.55 333.43 L196.93 334.34 L198.3 335.18 L199.67 335.97 L201.05 336.71 L202.42 337.41 L203.79 338.07 L205.17 338.69 L206.54 339.27 L207.91 339.81 L209.28 340.33 L210.66 340.82 L212.03 341.3 L213.4 341.75 L214.78 342.17 L216.15 342.57 L217.52 342.93 L218.9 343.26 L220.27 343.56 L221.64 343.82 L223.02 344.07 L224.39 344.3 L225.76 344.52 L227.13 344.72 L228.51 344.9 L229.88 345.08 L231.25 345.25 L232.63 345.4 L234 345.54 L235.37 345.66 L236.74 345.77 L238.12 345.88 L239.49 345.99 L240.86 346.12 L242.24 346.26 L243.61 346.43 L244.98 346.6 L246.36 346.79 L247.73 347.03 L249.1 347.33 L250.48 347.72 L251.85 348.49 L253.22 349.74 L254.59 351.3 L255.97 353.46 L257.34 356.3 L257.34 385.8 L255.97 385.48 L254.59 385.15 L253.22 384.9 L251.85 384.8 L250.48 384.8 L249.1 384.8 L247.73 384.8 L246.36 384.8 L244.98 384.8 L243.61 384.8 L242.24 384.8 L240.86 384.8 L239.49 384.8 L238.12 384.8 L236.74 384.8 L235.37 384.8 L234 384.8 L232.63 384.8 L231.25 384.8 L229.88 384.8 L228.51 384.81 L227.13 384.85 L225.76 384.91 L224.39 385 L223.02 385.11 L221.64 385.24 L220.27 385.39 L218.9 385.55 L217.52 385.74 L216.15 385.95 L214.78 386.17 L213.4 386.4 L212.03 386.74 L210.66 387.26 L209.28 387.93 L207.91 388.72 L206.54 389.6 L205.17 390.56 L203.79 391.73 L202.42 393.17 L201.05 394.84 L199.67 396.69 L198.3 398.67 L196.93 400.77 L195.55 403.27 L194.18 406.1 L192.81 409.09 L191.44 412.09 L190.06 414.95 L188.69 417.58 L187.32 420.21 L185.94 422.79 L184.57 425.28 L183.2 427.65 L181.83 429.83 L180.45 431.93 L179.08 434.01 L177.71 435.94 L176.33 437.58 L174.96 438.8 L173.59 439.76 L172.21 440.66 L170.84 441.44 L169.47 442.02 L168.1 442.35 L166.72 442.35 L165.35 442.01 L163.98 441.42 L162.6 440.71 L161.23 439.97 L159.86 439.17 L158.48 438.23 L157.11 437.17 L155.74 436.01 L154.37 434.77 L152.99 433.48 L151.62 432.14 L150.25 430.66 L148.87 429.06 L147.5 427.38 L146.13 425.63 L144.75 423.84 L143.38 422.06 L142.01 420.23 L140.63 418.33 L139.26 416.38 L137.89 414.4 L136.52 412.43 L135.14 410.47 L133.77 408.55 L132.4 406.64 L131.02 404.74 L129.65 402.84 L128.28 400.93 L126.91 399.03 L125.53 397.12 L124.16 395.17 L122.79 393.17 L121.41 391.16 L120.04 389.18 L118.67 387.29 L117.29 385.53 L115.92 383.91 L114.55 382.39 L113.18 380.95 L111.8 379.57 L110.43 378.24 L109.06 376.96 L107.68 375.7 L106.31 374.48 L104.94 373.31 L103.56 372.22 L102.19 371.18 L100.82 370.11 L99.44 369.02 L98.07 367.94 L96.7 366.9 L95.33 365.91 L93.95 365.01 L92.58 364.22 L91.21 363.56 L89.83 363.07 L88.46 362.74 L87.09 362.46 L85.72 362.21 L84.34 361.99 L82.97 361.79 L81.6 361.61 L80.22 361.45 L78.85 361.32 L77.48 361.2 L76.1 361.1 L74.73 361.01 L73.36 360.93 L71.98 360.85 L70.61 360.78 L69.24 360.72 L67.87 360.67 L66.49 360.63 L65.12 360.6 L63.75 360.57 L62.37 360.55 L61 360.52 L59.63 360.5 L58.25 360.48 L56.88 360.46 L55.51 360.44 L54.14 360.42 L52.76 360.4 L51.39 360.38 L50.02 360.37 L48.64 360.35 L47.27 360.34 L45.9 360.33 L44.53 360.32 L43.15 360.31 L41.78 360.31 L40.41 360.3 L39.03 360.3 L37.66 360.3"/>
</g>
<path stroke="#000" stroke-width="1.4" fill="none" d="M10.2 461.2 H284.8"/>
<text transform="translate(10.2,481) scale(1.06,1)" font-size="14" text-anchor="middle" fill="#000">0.3</text>
<text transform="translate(65.12,481) scale(1.06,1)" font-size="14" text-anchor="middle" fill="#000">0.4</text>
<text transform="translate(120.04,481) scale(1.06,1)" font-size="14" text-anchor="middle" fill="#000">0.5</text>
<text transform="translate(174.96,481) scale(1.06,1)" font-size="14" text-anchor="middle" fill="#000">0.6</text>
<text transform="translate(229.88,481) scale(1.06,1)" font-size="14" text-anchor="middle" fill="#000">0.7</text>
<text transform="translate(284.8,481) scale(1.06,1)" font-size="14" text-anchor="middle" fill="#000">0.8</text>
<path stroke="#000" stroke-width="1.4" fill="none" d="M10.2 461.2 V465 M37.66 461.2 V463.5 M65.12 461.2 V465 M92.58 461.2 V463.5 M120.04 461.2 V465 M147.5 461.2 V463.5 M174.96 461.2 V465 M202.42 461.2 V463.5 M229.88 461.2 V465 M257.34 461.2 V463.5 M284.8 461.2 V465"/>
<text transform="translate(149.3,501) scale(1.06,1)" font-size="14" text-anchor="middle" fill="#000"><tspan font-style="italic">E</tspan> / <tspan font-style="italic">V</tspan> (vs. Ag/Ag<tspan font-size="10" dy="-5">+</tspan><tspan dy="5">)</tspan></text>
<text transform="translate(-0.6,273) scale(1.06,1)" font-size="18" font-weight="bold" fill="#000">c</text>
<text transform="translate(20.3,307.1) scale(1.06,1)" font-size="14" fill="#000">50 μA</text>
<path d="M70.5 284.9 V319.9" stroke="#000" stroke-width="1.2"/>
<text transform="translate(167.2,290.1) scale(1.06,1)" font-size="14" fill="#000"><tspan font-style="italic">n</tspan> = 10</text>
<text transform="translate(209.9,333.8) scale(1.06,1)" font-size="14" fill="#000"><tspan font-style="italic">n</tspan> = 1</text>
<text transform="translate(97.4,394.9) scale(1.06,1)" font-size="14" fill="#000">1</text>
<text transform="translate(129.3,451.7) scale(1.06,1)" font-size="14" fill="#000">10</text>
<path d="M206.2 324.8 L188 298" stroke="#000" stroke-width="1.4"/>
<path d="M185.7 295 L186 302 L192 298 Z" fill="#000"/>
<path d="M109.6 398.2 L132.5 429.8" stroke="#000" stroke-width="1.4"/>
<path d="M134.4 432.6 L128.4 428.7 L134.3 425 Z" fill="#000"/>
<path stroke="#000" stroke-width="1.4" fill="none" d="M416.8 270.8 V462.4 H676.4"/>
<text transform="translate(408.4,452.94) scale(1.06,1)" font-size="14" text-anchor="end" fill="#000">−150</text>
<text transform="translate(408.4,425.73) scale(1.06,1)" font-size="14" text-anchor="end" fill="#000">−100</text>
<text transform="translate(408.4,398.51) scale(1.06,1)" font-size="14" text-anchor="end" fill="#000">−50</text>
<text transform="translate(408.4,371.3) scale(1.06,1)" font-size="14" text-anchor="end" fill="#000">0</text>
<text transform="translate(408.4,344.09) scale(1.06,1)" font-size="14" text-anchor="end" fill="#000">50</text>
<text transform="translate(408.4,316.87) scale(1.06,1)" font-size="14" text-anchor="end" fill="#000">100</text>
<text transform="translate(408.4,289.66) scale(1.06,1)" font-size="14" text-anchor="end" fill="#000">150</text>
<text transform="translate(440.8,482) scale(1.06,1)" font-size="14" text-anchor="middle" fill="#000">0</text>
<text transform="translate(487.92,482) scale(1.06,1)" font-size="14" text-anchor="middle" fill="#000">2</text>
<text transform="translate(535.04,482) scale(1.06,1)" font-size="14" text-anchor="middle" fill="#000">4</text>
<text transform="translate(582.16,482) scale(1.06,1)" font-size="14" text-anchor="middle" fill="#000">6</text>
<text transform="translate(629.28,482) scale(1.06,1)" font-size="14" text-anchor="middle" fill="#000">8</text>
<text transform="translate(676.4,482) scale(1.06,1)" font-size="14" text-anchor="middle" fill="#000">10</text>
<path stroke="#000" stroke-width="1.4" fill="none" d="M413 448.14 H416.8 M414.6 434.54 H416.8 M413 420.93 H416.8 M414.6 407.32 H416.8 M413 393.71 H416.8 M414.6 380.11 H416.8 M413 366.5 H416.8 M414.6 352.89 H416.8 M413 339.29 H416.8 M414.6 325.68 H416.8 M413 312.07 H416.8 M414.6 298.46 H416.8 M413 284.86 H416.8 M414.6 271.25 H416.8 M417.24 462.4 V464.5 M440.8 462.4 V466 M464.36 462.4 V464.5 M487.92 462.4 V466 M511.48 462.4 V464.5 M535.04 462.4 V466 M558.6 462.4 V464.5 M582.16 462.4 V466 M605.72 462.4 V464.5 M629.28 462.4 V466 M652.84 462.4 V464.5 M676.4 462.4 V466"/>
<text transform="translate(555.2,501.3) scale(1.06,1)" font-size="14" text-anchor="middle" fill="#000">Switching times (<tspan font-style="italic">n</tspan>)</text>
<text transform="translate(358.4,273.2) scale(1.06,1)" font-size="18" font-weight="bold" fill="#000">d</text>
<text transform="translate(372,366) rotate(-90)" font-size="14" text-anchor="middle"><tspan font-style="italic">I</tspan>/μA</text>
<path d="M439.4 351.57 L653.6 286.5" stroke="#000" stroke-width="1.4"/>
<path d="M440 380.05 L652.2 445.23" stroke="#000" stroke-width="1.4"/>
<path d="M439.4 347.6 L442.95 354.2 L435.85 354.2 Z" fill="#e46c0a"/>
<path d="M463.6 341.5 L467.15 348.1 L460.05 348.1 Z" fill="#e46c0a"/>
<path d="M487.4 333.3 L490.95 339.9 L483.85 339.9 Z" fill="#e46c0a"/>
<path d="M510.5 326.8 L514.05 333.4 L506.95 333.4 Z" fill="#e46c0a"/>
<path d="M535 319.7 L538.55 326.3 L531.45 326.3 Z" fill="#e46c0a"/>
<path d="M558.4 312.4 L561.95 319 L554.85 319 Z" fill="#e46c0a"/>
<path d="M582.3 304.8 L585.85 311.4 L578.75 311.4 Z" fill="#e46c0a"/>
<path d="M606.4 297.7 L609.95 304.3 L602.85 304.3 Z" fill="#e46c0a"/>
<path d="M629.9 290.1 L633.45 296.7 L626.35 296.7 Z" fill="#e46c0a"/>
<path d="M653.6 283 L657.15 289.6 L650.05 289.6 Z" fill="#e46c0a"/>
<path d="M440 384.3 L443.6 376.9 L436.4 376.9 Z" fill="#e46c0a"/>
<path d="M463.3 390.5 L466.9 383.1 L459.7 383.1 Z" fill="#e46c0a"/>
<path d="M488.1 399 L491.7 391.6 L484.5 391.6 Z" fill="#e46c0a"/>
<path d="M511.6 405.2 L515.2 397.8 L508 397.8 Z" fill="#e46c0a"/>
<path d="M535.1 412.3 L538.7 404.9 L531.5 404.9 Z" fill="#e46c0a"/>
<path d="M558.6 420.1 L562.2 412.7 L555 412.7 Z" fill="#e46c0a"/>
<path d="M583 428 L586.6 420.6 L579.4 420.6 Z" fill="#e46c0a"/>
<path d="M604.8 434.5 L608.4 427.1 L601.2 427.1 Z" fill="#e46c0a"/>
<path d="M628.9 442.4 L632.5 435 L625.3 435 Z" fill="#e46c0a"/>
<path d="M652.2 448.5 L655.8 441.1 L648.6 441.1 Z" fill="#e46c0a"/>
<text transform="translate(421.7,342.8) scale(1.06,1)" font-size="14" fill="#e46c0a">O1</text>
<text transform="translate(446.8,335.6) scale(1.06,1)" font-size="14" fill="#e46c0a">O2</text>
<text transform="translate(471.3,328.5) scale(1.06,1)" font-size="14" fill="#e46c0a">O3</text>
<text transform="translate(495.2,321.7) scale(1.06,1)" font-size="14" fill="#e46c0a">O4</text>
<text transform="translate(520.4,314.8) scale(1.06,1)" font-size="14" fill="#e46c0a">O5</text>
<text transform="translate(543.3,307.7) scale(1.06,1)" font-size="14" fill="#e46c0a">O6</text>
<text transform="translate(567.8,298.9) scale(1.06,1)" font-size="14" fill="#e46c0a">O7</text>
<text transform="translate(592.7,291.8) scale(1.06,1)" font-size="14" fill="#e46c0a">O8</text>
<text transform="translate(615.8,283.6) scale(1.06,1)" font-size="14" fill="#e46c0a">O9</text>
<text transform="translate(640.8,276.5) scale(1.06,1)" font-size="14" fill="#e46c0a">O10</text>
<text transform="translate(429.5,306.6) scale(1.06,1)" font-size="14" fill="#000"><tspan font-style="italic">R</tspan><tspan font-size="10" dy="-5.5">2</tspan><tspan dy="5.5"> = 0.997</tspan></text>
<text transform="translate(502.7,448) scale(1.06,1)" font-size="14" fill="#000"><tspan font-style="italic">R</tspan><tspan font-size="10" dy="-5.5">2</tspan><tspan dy="5.5"> = 0.998</tspan></text>
<path d="M501.7 355.9 L505.25 362.5 L498.15 362.5 Z" fill="#e46c0a"/>
<path d="M502.5 383 L506.1 375.6 L498.9 375.6 Z" fill="#e46c0a"/>
<text transform="translate(511.5,364) scale(1.06,1)" font-size="14" fill="#000">Anodic current <tspan font-style="italic">i</tspan><tspan font-size="10" dy="3.5">pa</tspan></text>
<text transform="translate(511.5,382) scale(1.06,1)" font-size="14" fill="#000">Cathodic current <tspan font-style="italic">i</tspan><tspan font-size="10" dy="3.5">pc</tspan></text>
</svg>
</body></html>
